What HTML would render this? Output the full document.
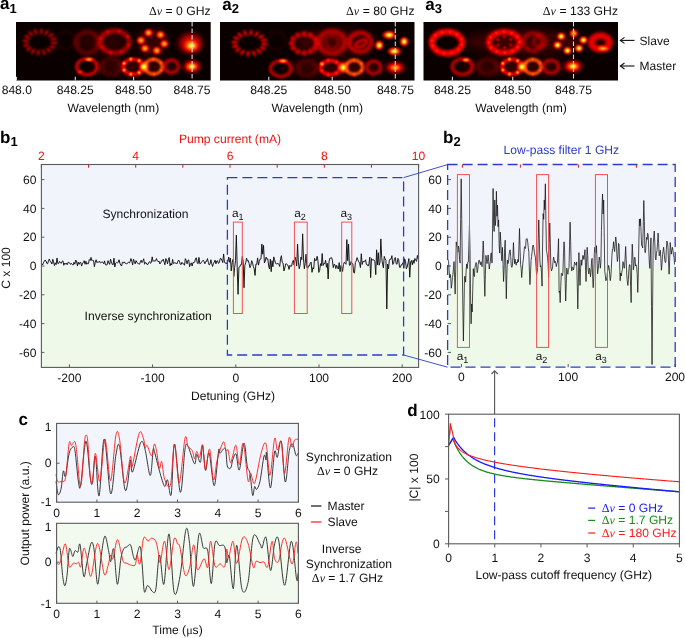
<!DOCTYPE html>
<html><head><meta charset="utf-8"><style>
html,body{margin:0;padding:0;background:#fff;}
svg{display:block;}
text{font-family:"Liberation Sans",sans-serif;text-rendering:geometricPrecision;}
</style></head><body>
<svg width="685" height="638" viewBox="0 0 685 638" font-family="Liberation Sans, sans-serif">
<rect width="685" height="638" fill="#ffffff"/>
<defs>
<filter id="b4" x="-50%" y="-50%" width="200%" height="200%"><feGaussianBlur stdDeviation="4"/></filter>
<filter id="b0_85" x="-50%" y="-50%" width="200%" height="200%"><feGaussianBlur stdDeviation="0.85"/></filter>
<filter id="b1_5" x="-50%" y="-50%" width="200%" height="200%"><feGaussianBlur stdDeviation="1.5"/></filter>
<filter id="b1_6" x="-50%" y="-50%" width="200%" height="200%"><feGaussianBlur stdDeviation="1.6"/></filter>
<filter id="b2" x="-50%" y="-50%" width="200%" height="200%"><feGaussianBlur stdDeviation="2"/></filter>
<filter id="b1_2" x="-50%" y="-50%" width="200%" height="200%"><feGaussianBlur stdDeviation="1.2"/></filter>
<filter id="b1_1" x="-50%" y="-50%" width="200%" height="200%"><feGaussianBlur stdDeviation="1.1"/></filter>
<filter id="b1_3" x="-50%" y="-50%" width="200%" height="200%"><feGaussianBlur stdDeviation="1.3"/></filter>
<filter id="b1_4" x="-50%" y="-50%" width="200%" height="200%"><feGaussianBlur stdDeviation="1.4"/></filter>
<radialGradient id="gY"><stop offset="0" stop-color="#ffffa0" stop-opacity="1"/><stop offset="0.22" stop-color="#ffd020" stop-opacity="1"/><stop offset="0.5" stop-color="#ff4000" stop-opacity="0.9"/><stop offset="0.78" stop-color="#c00000" stop-opacity="0.55"/><stop offset="1" stop-color="#500000" stop-opacity="0"/></radialGradient>
<radialGradient id="gO"><stop offset="0" stop-color="#ffc040" stop-opacity="1"/><stop offset="0.35" stop-color="#ff6000" stop-opacity="1"/><stop offset="0.7" stop-color="#d00000" stop-opacity="0.7"/><stop offset="1" stop-color="#600000" stop-opacity="0"/></radialGradient>
<radialGradient id="gR"><stop offset="0" stop-color="#ff3000" stop-opacity="1"/><stop offset="0.5" stop-color="#d00000" stop-opacity="0.8"/><stop offset="1" stop-color="#500000" stop-opacity="0"/></radialGradient>
<radialGradient id="gD"><stop offset="0" stop-color="#b00000" stop-opacity="1"/><stop offset="0.55" stop-color="#800000" stop-opacity="0.6"/><stop offset="1" stop-color="#300000" stop-opacity="0"/></radialGradient>
<clipPath id="ca1"><rect x="16" y="22" width="194.7" height="58.5"/></clipPath>
<clipPath id="ca2"><rect x="220" y="22" width="194.5" height="58.5"/></clipPath>
<clipPath id="ca3"><rect x="423.5" y="22" width="194.5" height="58.5"/></clipPath>
</defs>
<rect x="16" y="22" width="194.7" height="58.5" fill="#0b0000"/>
<g clip-path="url(#ca1)" style="isolation:isolate"><g style="mix-blend-mode:screen"><ellipse cx="100" cy="42" rx="26" ry="11" fill="#2a0000" filter="url(#b4)"/></g>
<g style="mix-blend-mode:screen"><ellipse cx="152" cy="42" rx="16" ry="12" fill="#360000" filter="url(#b4)"/></g>
<g style="mix-blend-mode:screen"><ellipse cx="135" cy="67" rx="45" ry="8" fill="#360000" filter="url(#b4)"/></g>
<g style="mix-blend-mode:screen"><g fill="#bc0000" filter="url(#b0_85)"><ellipse cx="53.93" cy="43.07" rx="3.2" ry="1.45" transform="rotate(4.3 53.93 43.07)"/><ellipse cx="52.31" cy="47.06" rx="3.2" ry="1.45" transform="rotate(22.0 52.31 47.06)"/><ellipse cx="48.79" cy="50.28" rx="3.2" ry="1.45" transform="rotate(42.7 48.79 50.28)"/><ellipse cx="43.90" cy="52.24" rx="3.2" ry="1.45" transform="rotate(68.2 43.90 52.24)"/><ellipse cx="38.38" cy="52.65" rx="3.2" ry="1.45" transform="rotate(97.6 38.38 52.65)"/><ellipse cx="33.08" cy="51.43" rx="3.2" ry="1.45" transform="rotate(125.5 33.08 51.43)"/><ellipse cx="28.81" cy="48.77" rx="3.2" ry="1.45" transform="rotate(148.4 28.81 48.77)"/><ellipse cx="26.20" cy="45.09" rx="3.2" ry="1.45" transform="rotate(167.2 26.20 45.09)"/><ellipse cx="25.67" cy="40.93" rx="3.2" ry="1.45" transform="rotate(-175.7 25.67 40.93)"/><ellipse cx="27.29" cy="36.94" rx="3.2" ry="1.45" transform="rotate(-158.0 27.29 36.94)"/><ellipse cx="30.81" cy="33.72" rx="3.2" ry="1.45" transform="rotate(-137.3 30.81 33.72)"/><ellipse cx="35.70" cy="31.76" rx="3.2" ry="1.45" transform="rotate(-111.8 35.70 31.76)"/><ellipse cx="41.22" cy="31.35" rx="3.2" ry="1.45" transform="rotate(-82.4 41.22 31.35)"/><ellipse cx="46.52" cy="32.57" rx="3.2" ry="1.45" transform="rotate(-54.5 46.52 32.57)"/><ellipse cx="50.79" cy="35.23" rx="3.2" ry="1.45" transform="rotate(-31.6 50.79 35.23)"/><ellipse cx="53.40" cy="38.91" rx="3.2" ry="1.45" transform="rotate(-12.8 53.40 38.91)"/></g></g>
<g style="mix-blend-mode:screen"><ellipse cx="65.8" cy="40.4" rx="9" ry="9" fill="none" stroke="#1e0000" stroke-width="3" filter="url(#b1_5)" /></g>
<g style="mix-blend-mode:screen"><ellipse cx="87" cy="42.6" rx="11" ry="10.8" fill="none" stroke="#550000" stroke-width="4.5" filter="url(#b1_6)" /></g>
<g style="mix-blend-mode:screen"><ellipse cx="114.7" cy="41.9" rx="14.5" ry="11.2" fill="none" stroke="#a30000" stroke-width="5" filter="url(#b1_5)" /></g>
<g style="mix-blend-mode:screen"><ellipse cx="128.55" cy="45.21" rx="3.0" ry="3.0" fill="url(#gD)"/></g>
<g style="mix-blend-mode:screen"><ellipse cx="121.47" cy="51.81" rx="3.0" ry="3.0" fill="url(#gD)"/></g>
<g style="mix-blend-mode:screen"><ellipse cx="110.41" cy="52.60" rx="3.0" ry="3.0" fill="url(#gD)"/></g>
<g style="mix-blend-mode:screen"><ellipse cx="101.87" cy="47.13" rx="3.0" ry="3.0" fill="url(#gD)"/></g>
<g style="mix-blend-mode:screen"><ellipse cx="100.85" cy="38.59" rx="3.0" ry="3.0" fill="url(#gD)"/></g>
<g style="mix-blend-mode:screen"><ellipse cx="107.93" cy="31.99" rx="3.0" ry="3.0" fill="url(#gD)"/></g>
<g style="mix-blend-mode:screen"><ellipse cx="118.99" cy="31.20" rx="3.0" ry="3.0" fill="url(#gD)"/></g>
<g style="mix-blend-mode:screen"><ellipse cx="127.53" cy="36.67" rx="3.0" ry="3.0" fill="url(#gD)"/></g>
<g style="mix-blend-mode:screen"><ellipse cx="152.5" cy="41.6" rx="12.5" ry="9.5" fill="none" stroke="#480000" stroke-width="4" filter="url(#b2)" /></g>
<g style="mix-blend-mode:screen"><ellipse cx="141" cy="40.4" rx="5.5" ry="5.2" fill="url(#gO)"/></g>
<g style="mix-blend-mode:screen"><ellipse cx="148.5" cy="32.8" rx="5.5" ry="5.2" fill="url(#gO)"/></g>
<g style="mix-blend-mode:screen"><ellipse cx="160.5" cy="34.8" rx="5.5" ry="5.2" fill="url(#gO)"/></g>
<g style="mix-blend-mode:screen"><ellipse cx="164.3" cy="43.8" rx="5.5" ry="5.2" fill="url(#gO)"/></g>
<g style="mix-blend-mode:screen"><ellipse cx="156.8" cy="50.6" rx="5.5" ry="5.2" fill="url(#gO)"/></g>
<g style="mix-blend-mode:screen"><ellipse cx="145" cy="48.4" rx="5.5" ry="5.2" fill="url(#gO)"/></g>
<g style="mix-blend-mode:screen"><ellipse cx="190.5" cy="43.5" rx="17" ry="14.5" fill="url(#gR)"/></g>
<g style="mix-blend-mode:screen"><ellipse cx="191.5" cy="45.8" rx="10" ry="8" fill="url(#gY)"/></g>
<g style="mix-blend-mode:screen"><ellipse cx="87" cy="66.7" rx="10.2" ry="8.0" fill="none" stroke="#c80000" stroke-width="3.5" filter="url(#b1_2)" /></g>
<g style="mix-blend-mode:screen"><ellipse cx="89" cy="59.5" rx="6" ry="3.2" fill="url(#gO)"/></g>
<g style="mix-blend-mode:screen"><ellipse cx="80" cy="72" rx="4" ry="3" fill="url(#gR)"/></g>
<g style="mix-blend-mode:screen"><ellipse cx="111.1" cy="66.7" rx="9.5" ry="8" fill="none" stroke="#3c0000" stroke-width="3.8" filter="url(#b1_5)" /></g>
<g style="mix-blend-mode:screen"><ellipse cx="133" cy="66.7" rx="9.8" ry="7.6" fill="none" stroke="#ff0000" stroke-width="3.4" filter="url(#b1_1)" /></g>
<g style="mix-blend-mode:screen"><ellipse cx="142.80" cy="66.70" rx="3.2" ry="3.2" fill="url(#gO)"/></g>
<g style="mix-blend-mode:screen"><ellipse cx="139.11" cy="72.64" rx="3.2" ry="3.2" fill="url(#gO)"/></g>
<g style="mix-blend-mode:screen"><ellipse cx="130.82" cy="74.11" rx="3.2" ry="3.2" fill="url(#gO)"/></g>
<g style="mix-blend-mode:screen"><ellipse cx="124.17" cy="70.00" rx="3.2" ry="3.2" fill="url(#gO)"/></g>
<g style="mix-blend-mode:screen"><ellipse cx="124.17" cy="63.40" rx="3.2" ry="3.2" fill="url(#gO)"/></g>
<g style="mix-blend-mode:screen"><ellipse cx="130.82" cy="59.29" rx="3.2" ry="3.2" fill="url(#gO)"/></g>
<g style="mix-blend-mode:screen"><ellipse cx="139.11" cy="60.76" rx="3.2" ry="3.2" fill="url(#gO)"/></g>
<g style="mix-blend-mode:screen"><ellipse cx="153.6" cy="66.7" rx="8.6" ry="7.4" fill="none" stroke="#ff4e00" stroke-width="3.4" filter="url(#b1_1)" /></g>
<g style="mix-blend-mode:screen"><ellipse cx="161.15" cy="70.25" rx="3.0" ry="3.0" fill="url(#gR)"/></g>
<g style="mix-blend-mode:screen"><ellipse cx="153.80" cy="74.10" rx="3.0" ry="3.0" fill="url(#gR)"/></g>
<g style="mix-blend-mode:screen"><ellipse cx="146.26" cy="70.55" rx="3.0" ry="3.0" fill="url(#gR)"/></g>
<g style="mix-blend-mode:screen"><ellipse cx="146.05" cy="63.15" rx="3.0" ry="3.0" fill="url(#gR)"/></g>
<g style="mix-blend-mode:screen"><ellipse cx="153.40" cy="59.30" rx="3.0" ry="3.0" fill="url(#gR)"/></g>
<g style="mix-blend-mode:screen"><ellipse cx="160.94" cy="62.85" rx="3.0" ry="3.0" fill="url(#gR)"/></g>
<g style="mix-blend-mode:screen"><ellipse cx="171.5" cy="66.4" rx="7" ry="6.3" fill="none" stroke="#aa0000" stroke-width="3.6" filter="url(#b1_3)" /></g>
<g style="mix-blend-mode:screen"><ellipse cx="144" cy="66.8" rx="6.8" ry="7.5" fill="url(#gY)"/></g>
<g style="mix-blend-mode:screen"><ellipse cx="191.9" cy="66.4" rx="12" ry="9.5" fill="url(#gR)"/></g>
<g style="mix-blend-mode:screen"><ellipse cx="191.9" cy="66.6" rx="8" ry="6" fill="url(#gY)"/></g></g>
<rect x="220" y="22" width="194.5" height="58.5" fill="#0b0000"/>
<g clip-path="url(#ca2)" style="isolation:isolate"><g style="mix-blend-mode:screen"><ellipse cx="335" cy="42" rx="40" ry="12" fill="#3c0000" filter="url(#b4)"/></g>
<g style="mix-blend-mode:screen"><ellipse cx="335" cy="67.5" rx="52" ry="8" fill="#360000" filter="url(#b4)"/></g>
<g style="mix-blend-mode:screen"><g fill="#f20000" filter="url(#b0_85)"><ellipse cx="264.43" cy="44.25" rx="3.2" ry="1.45" transform="rotate(4.0 264.43 44.25)"/><ellipse cx="262.72" cy="48.17" rx="3.2" ry="1.45" transform="rotate(20.6 262.72 48.17)"/><ellipse cx="258.99" cy="51.33" rx="3.2" ry="1.45" transform="rotate(40.6 258.99 51.33)"/><ellipse cx="253.83" cy="53.25" rx="3.2" ry="1.45" transform="rotate(66.7 253.83 53.25)"/><ellipse cx="248.00" cy="53.65" rx="3.2" ry="1.45" transform="rotate(98.2 248.00 53.65)"/><ellipse cx="242.40" cy="52.45" rx="3.2" ry="1.45" transform="rotate(127.5 242.40 52.45)"/><ellipse cx="237.89" cy="49.85" rx="3.2" ry="1.45" transform="rotate(150.2 237.89 49.85)"/><ellipse cx="235.14" cy="46.23" rx="3.2" ry="1.45" transform="rotate(168.1 235.14 46.23)"/><ellipse cx="234.57" cy="42.15" rx="3.2" ry="1.45" transform="rotate(-176.0 234.57 42.15)"/><ellipse cx="236.28" cy="38.23" rx="3.2" ry="1.45" transform="rotate(-159.4 236.28 38.23)"/><ellipse cx="240.01" cy="35.07" rx="3.2" ry="1.45" transform="rotate(-139.4 240.01 35.07)"/><ellipse cx="245.17" cy="33.15" rx="3.2" ry="1.45" transform="rotate(-113.3 245.17 33.15)"/><ellipse cx="251.00" cy="32.75" rx="3.2" ry="1.45" transform="rotate(-81.8 251.00 32.75)"/><ellipse cx="256.60" cy="33.95" rx="3.2" ry="1.45" transform="rotate(-52.5 256.60 33.95)"/><ellipse cx="261.11" cy="36.55" rx="3.2" ry="1.45" transform="rotate(-29.8 261.11 36.55)"/><ellipse cx="263.86" cy="40.17" rx="3.2" ry="1.45" transform="rotate(-11.9 263.86 40.17)"/></g></g>
<g style="mix-blend-mode:screen"><ellipse cx="276.4" cy="40.5" rx="9" ry="9" fill="none" stroke="#1e0000" stroke-width="3" filter="url(#b1_5)" /></g>
<g style="mix-blend-mode:screen"><g fill="#b60000" filter="url(#b1_3)"><ellipse cx="316.60" cy="43.40" rx="2.8" ry="2.4" transform="rotate(0.0 316.60 43.40)"/><ellipse cx="314.93" cy="48.15" rx="2.8" ry="2.4" transform="rotate(23.7 314.93 48.15)"/><ellipse cx="310.35" cy="51.63" rx="2.8" ry="2.4" transform="rotate(52.8 310.35 51.63)"/><ellipse cx="304.10" cy="52.90" rx="2.8" ry="2.4" transform="rotate(90.0 304.10 52.90)"/><ellipse cx="297.85" cy="51.63" rx="2.8" ry="2.4" transform="rotate(127.2 297.85 51.63)"/><ellipse cx="293.27" cy="48.15" rx="2.8" ry="2.4" transform="rotate(156.3 293.27 48.15)"/><ellipse cx="291.60" cy="43.40" rx="2.8" ry="2.4" transform="rotate(180.0 291.60 43.40)"/><ellipse cx="293.27" cy="38.65" rx="2.8" ry="2.4" transform="rotate(-156.3 293.27 38.65)"/><ellipse cx="297.85" cy="35.17" rx="2.8" ry="2.4" transform="rotate(-127.2 297.85 35.17)"/><ellipse cx="304.10" cy="33.90" rx="2.8" ry="2.4" transform="rotate(-90.0 304.10 33.90)"/><ellipse cx="310.35" cy="35.17" rx="2.8" ry="2.4" transform="rotate(-52.8 310.35 35.17)"/><ellipse cx="314.93" cy="38.65" rx="2.8" ry="2.4" transform="rotate(-23.7 314.93 38.65)"/></g></g>
<g style="mix-blend-mode:screen"><ellipse cx="304.1" cy="43.4" rx="12.5" ry="9.5" fill="none" stroke="#5b0000" stroke-width="3" filter="url(#b1_5)" /></g>
<g style="mix-blend-mode:screen"><ellipse cx="331.9" cy="42.3" rx="13" ry="11" fill="none" stroke="#9d0000" stroke-width="5.5" filter="url(#b1_6)" /></g>
<g style="mix-blend-mode:screen"><ellipse cx="331.9" cy="42.3" rx="6.5" ry="6.5" fill="none" stroke="#6d0000" stroke-width="3" filter="url(#b1_4)" /></g>
<g style="mix-blend-mode:screen"><ellipse cx="360.2" cy="42.3" rx="11" ry="9.5" fill="none" stroke="#b60000" stroke-width="4.4" filter="url(#b1_5)" /></g>
<g style="mix-blend-mode:screen"><ellipse cx="361" cy="43.5" rx="6" ry="2.6" fill="none" stroke="#ce0000" stroke-width="2.6" transform="rotate(-28 361 43.5)" filter="url(#b1_2)"/></g>
<g style="mix-blend-mode:screen"><ellipse cx="389.2" cy="35" rx="8.5" ry="5.5" fill="url(#gY)"/></g>
<g style="mix-blend-mode:screen"><ellipse cx="379.3" cy="45.3" rx="5.8" ry="6.2" fill="url(#gY)"/></g>
<g style="mix-blend-mode:screen"><ellipse cx="404.2" cy="41.6" rx="5.8" ry="6.2" fill="url(#gY)"/></g>
<g style="mix-blend-mode:screen"><ellipse cx="394.4" cy="51.3" rx="8.5" ry="5.5" fill="url(#gY)"/></g>
<g style="mix-blend-mode:screen"><ellipse cx="280.8" cy="68.6" rx="10.3" ry="7.8" fill="none" stroke="#b60000" stroke-width="3.5" filter="url(#b1_2)" /></g>
<g style="mix-blend-mode:screen"><ellipse cx="283" cy="61" rx="6.5" ry="3.2" fill="url(#gO)"/></g>
<g style="mix-blend-mode:screen"><ellipse cx="307" cy="68.3" rx="9.5" ry="7.6" fill="none" stroke="#3c0000" stroke-width="3.8" filter="url(#b1_5)" /></g>
<g style="mix-blend-mode:screen"><ellipse cx="330.4" cy="67.6" rx="9.6" ry="7.1" fill="none" stroke="#ff0000" stroke-width="3.4" filter="url(#b1_1)" /></g>
<g style="mix-blend-mode:screen"><ellipse cx="340.00" cy="67.60" rx="3.1" ry="3.1" fill="url(#gR)"/></g>
<g style="mix-blend-mode:screen"><ellipse cx="336.39" cy="73.15" rx="3.1" ry="3.1" fill="url(#gR)"/></g>
<g style="mix-blend-mode:screen"><ellipse cx="328.26" cy="74.52" rx="3.1" ry="3.1" fill="url(#gR)"/></g>
<g style="mix-blend-mode:screen"><ellipse cx="321.75" cy="70.68" rx="3.1" ry="3.1" fill="url(#gR)"/></g>
<g style="mix-blend-mode:screen"><ellipse cx="321.75" cy="64.52" rx="3.1" ry="3.1" fill="url(#gR)"/></g>
<g style="mix-blend-mode:screen"><ellipse cx="328.26" cy="60.68" rx="3.1" ry="3.1" fill="url(#gR)"/></g>
<g style="mix-blend-mode:screen"><ellipse cx="336.39" cy="62.05" rx="3.1" ry="3.1" fill="url(#gR)"/></g>
<g style="mix-blend-mode:screen"><ellipse cx="322" cy="64" rx="3.5" ry="3.5" fill="url(#gO)"/></g>
<g style="mix-blend-mode:screen"><ellipse cx="354.2" cy="67.3" rx="8.3" ry="7.0" fill="none" stroke="#ff4e00" stroke-width="3.4" filter="url(#b1_1)" /></g>
<g style="mix-blend-mode:screen"><ellipse cx="361.48" cy="70.66" rx="3.0" ry="3.0" fill="url(#gR)"/></g>
<g style="mix-blend-mode:screen"><ellipse cx="354.40" cy="74.30" rx="3.0" ry="3.0" fill="url(#gR)"/></g>
<g style="mix-blend-mode:screen"><ellipse cx="347.11" cy="70.94" rx="3.0" ry="3.0" fill="url(#gR)"/></g>
<g style="mix-blend-mode:screen"><ellipse cx="346.92" cy="63.94" rx="3.0" ry="3.0" fill="url(#gR)"/></g>
<g style="mix-blend-mode:screen"><ellipse cx="354.00" cy="60.30" rx="3.0" ry="3.0" fill="url(#gR)"/></g>
<g style="mix-blend-mode:screen"><ellipse cx="361.29" cy="63.66" rx="3.0" ry="3.0" fill="url(#gR)"/></g>
<g style="mix-blend-mode:screen"><ellipse cx="373.6" cy="67.5" rx="7" ry="6.3" fill="none" stroke="#aa0000" stroke-width="3.6" filter="url(#b1_3)" /></g>
<g style="mix-blend-mode:screen"><ellipse cx="343" cy="67.5" rx="6.8" ry="7.5" fill="url(#gY)"/></g>
<g style="mix-blend-mode:screen"><ellipse cx="395.2" cy="67.6" rx="13" ry="8.5" fill="url(#gR)"/></g>
<g style="mix-blend-mode:screen"><ellipse cx="395.2" cy="67.6" rx="8" ry="5" fill="url(#gO)"/></g></g>
<rect x="423.5" y="22" width="194.5" height="58.5" fill="#0b0000"/>
<g clip-path="url(#ca3)" style="isolation:isolate"><g style="mix-blend-mode:screen"><ellipse cx="525" cy="42" rx="60" ry="12" fill="#3c0000" filter="url(#b4)"/></g>
<g style="mix-blend-mode:screen"><ellipse cx="515" cy="67" rx="55" ry="8" fill="#360000" filter="url(#b4)"/></g>
<g style="mix-blend-mode:screen"><ellipse cx="447" cy="42.6" rx="15.2" ry="10.8" fill="none" stroke="#ff0000" stroke-width="6" filter="url(#b1_4)" /></g>
<g style="mix-blend-mode:screen"><ellipse cx="461.90" cy="44.75" rx="3.2" ry="3.2" fill="url(#gR)"/></g>
<g style="mix-blend-mode:screen"><ellipse cx="458.39" cy="49.75" rx="3.2" ry="3.2" fill="url(#gR)"/></g>
<g style="mix-blend-mode:screen"><ellipse cx="451.83" cy="52.84" rx="3.2" ry="3.2" fill="url(#gR)"/></g>
<g style="mix-blend-mode:screen"><ellipse cx="443.98" cy="53.18" rx="3.2" ry="3.2" fill="url(#gR)"/></g>
<g style="mix-blend-mode:screen"><ellipse cx="436.94" cy="50.69" rx="3.2" ry="3.2" fill="url(#gR)"/></g>
<g style="mix-blend-mode:screen"><ellipse cx="432.59" cy="46.03" rx="3.2" ry="3.2" fill="url(#gR)"/></g>
<g style="mix-blend-mode:screen"><ellipse cx="432.10" cy="40.45" rx="3.2" ry="3.2" fill="url(#gR)"/></g>
<g style="mix-blend-mode:screen"><ellipse cx="435.61" cy="35.45" rx="3.2" ry="3.2" fill="url(#gR)"/></g>
<g style="mix-blend-mode:screen"><ellipse cx="442.17" cy="32.36" rx="3.2" ry="3.2" fill="url(#gR)"/></g>
<g style="mix-blend-mode:screen"><ellipse cx="450.02" cy="32.02" rx="3.2" ry="3.2" fill="url(#gR)"/></g>
<g style="mix-blend-mode:screen"><ellipse cx="457.06" cy="34.51" rx="3.2" ry="3.2" fill="url(#gR)"/></g>
<g style="mix-blend-mode:screen"><ellipse cx="461.41" cy="39.17" rx="3.2" ry="3.2" fill="url(#gR)"/></g>
<g style="mix-blend-mode:screen"><ellipse cx="504.3" cy="42.3" rx="15.4" ry="10.5" fill="none" stroke="#f20000" stroke-width="5.5" filter="url(#b1_4)" /></g>
<g style="mix-blend-mode:screen"><ellipse cx="517.81" cy="47.33" rx="3.0" ry="3.0" fill="url(#gR)"/></g>
<g style="mix-blend-mode:screen"><ellipse cx="512.31" cy="51.27" rx="3.0" ry="3.0" fill="url(#gR)"/></g>
<g style="mix-blend-mode:screen"><ellipse cx="504.66" cy="52.80" rx="3.0" ry="3.0" fill="url(#gR)"/></g>
<g style="mix-blend-mode:screen"><ellipse cx="496.92" cy="51.51" rx="3.0" ry="3.0" fill="url(#gR)"/></g>
<g style="mix-blend-mode:screen"><ellipse cx="491.15" cy="47.76" rx="3.0" ry="3.0" fill="url(#gR)"/></g>
<g style="mix-blend-mode:screen"><ellipse cx="488.90" cy="42.55" rx="3.0" ry="3.0" fill="url(#gR)"/></g>
<g style="mix-blend-mode:screen"><ellipse cx="490.79" cy="37.27" rx="3.0" ry="3.0" fill="url(#gR)"/></g>
<g style="mix-blend-mode:screen"><ellipse cx="496.29" cy="33.33" rx="3.0" ry="3.0" fill="url(#gR)"/></g>
<g style="mix-blend-mode:screen"><ellipse cx="503.94" cy="31.80" rx="3.0" ry="3.0" fill="url(#gR)"/></g>
<g style="mix-blend-mode:screen"><ellipse cx="511.68" cy="33.09" rx="3.0" ry="3.0" fill="url(#gR)"/></g>
<g style="mix-blend-mode:screen"><ellipse cx="517.45" cy="36.84" rx="3.0" ry="3.0" fill="url(#gR)"/></g>
<g style="mix-blend-mode:screen"><ellipse cx="519.70" cy="42.05" rx="3.0" ry="3.0" fill="url(#gR)"/></g>
<g style="mix-blend-mode:screen"><ellipse cx="510.88" cy="44.94" rx="2.8" ry="2.8" fill="url(#gD)"/></g>
<g style="mix-blend-mode:screen"><ellipse cx="504.48" cy="47.80" rx="2.8" ry="2.8" fill="url(#gD)"/></g>
<g style="mix-blend-mode:screen"><ellipse cx="497.90" cy="45.16" rx="2.8" ry="2.8" fill="url(#gD)"/></g>
<g style="mix-blend-mode:screen"><ellipse cx="497.72" cy="39.66" rx="2.8" ry="2.8" fill="url(#gD)"/></g>
<g style="mix-blend-mode:screen"><ellipse cx="504.12" cy="36.80" rx="2.8" ry="2.8" fill="url(#gD)"/></g>
<g style="mix-blend-mode:screen"><ellipse cx="510.70" cy="39.44" rx="2.8" ry="2.8" fill="url(#gD)"/></g>
<g style="mix-blend-mode:screen"><ellipse cx="532.8" cy="41.9" rx="9.5" ry="9" fill="none" stroke="#850000" stroke-width="4" filter="url(#b1_5)" /></g>
<g style="mix-blend-mode:screen"><ellipse cx="540" cy="41" rx="6" ry="6" fill="none" stroke="#790000" stroke-width="3" filter="url(#b1_5)" /></g>
<g style="mix-blend-mode:screen"><ellipse cx="561.2" cy="36.4" rx="5.6" ry="5.2" fill="url(#gY)"/></g>
<g style="mix-blend-mode:screen"><ellipse cx="573.8" cy="33.4" rx="5.6" ry="5.2" fill="url(#gO)"/></g>
<g style="mix-blend-mode:screen"><ellipse cx="583.5" cy="40.1" rx="5.6" ry="5.2" fill="url(#gY)"/></g>
<g style="mix-blend-mode:screen"><ellipse cx="579" cy="48.3" rx="5.6" ry="5.2" fill="url(#gY)"/></g>
<g style="mix-blend-mode:screen"><ellipse cx="567.5" cy="50.6" rx="5.6" ry="5.2" fill="url(#gY)"/></g>
<g style="mix-blend-mode:screen"><ellipse cx="557.6" cy="45.1" rx="5.6" ry="5.2" fill="url(#gY)"/></g>
<g style="mix-blend-mode:screen"><ellipse cx="600.4" cy="42.4" rx="9.0" ry="6.6" fill="none" stroke="#e60000" stroke-width="7.0" filter="url(#b1_6)" /></g>
<g style="mix-blend-mode:screen"><ellipse cx="603" cy="48.5" rx="9" ry="4.2" fill="url(#gO)"/></g>
<g style="mix-blend-mode:screen"><ellipse cx="462.3" cy="66.7" rx="10" ry="7.8" fill="none" stroke="#b60000" stroke-width="3.6" filter="url(#b1_2)" /></g>
<g style="mix-blend-mode:screen"><ellipse cx="466" cy="60" rx="5.5" ry="3.2" fill="url(#gO)"/></g>
<g style="mix-blend-mode:screen"><ellipse cx="487.5" cy="66.7" rx="9.3" ry="7.5" fill="none" stroke="#3c0000" stroke-width="3.8" filter="url(#b1_5)" /></g>
<g style="mix-blend-mode:screen"><ellipse cx="511.6" cy="66.7" rx="9.6" ry="7.5" fill="none" stroke="#ff0000" stroke-width="3.4" filter="url(#b1_1)" /></g>
<g style="mix-blend-mode:screen"><ellipse cx="521.20" cy="66.70" rx="3.1" ry="3.1" fill="url(#gO)"/></g>
<g style="mix-blend-mode:screen"><ellipse cx="517.59" cy="72.56" rx="3.1" ry="3.1" fill="url(#gO)"/></g>
<g style="mix-blend-mode:screen"><ellipse cx="509.46" cy="74.01" rx="3.1" ry="3.1" fill="url(#gO)"/></g>
<g style="mix-blend-mode:screen"><ellipse cx="502.95" cy="69.95" rx="3.1" ry="3.1" fill="url(#gO)"/></g>
<g style="mix-blend-mode:screen"><ellipse cx="502.95" cy="63.45" rx="3.1" ry="3.1" fill="url(#gO)"/></g>
<g style="mix-blend-mode:screen"><ellipse cx="509.46" cy="59.39" rx="3.1" ry="3.1" fill="url(#gO)"/></g>
<g style="mix-blend-mode:screen"><ellipse cx="517.59" cy="60.84" rx="3.1" ry="3.1" fill="url(#gO)"/></g>
<g style="mix-blend-mode:screen"><ellipse cx="532.8" cy="66.7" rx="8.3" ry="7.2" fill="none" stroke="#ff4e00" stroke-width="3.4" filter="url(#b1_1)" /></g>
<g style="mix-blend-mode:screen"><ellipse cx="540.08" cy="70.15" rx="3.0" ry="3.0" fill="url(#gR)"/></g>
<g style="mix-blend-mode:screen"><ellipse cx="533.00" cy="73.90" rx="3.0" ry="3.0" fill="url(#gR)"/></g>
<g style="mix-blend-mode:screen"><ellipse cx="525.71" cy="70.45" rx="3.0" ry="3.0" fill="url(#gR)"/></g>
<g style="mix-blend-mode:screen"><ellipse cx="525.52" cy="63.25" rx="3.0" ry="3.0" fill="url(#gR)"/></g>
<g style="mix-blend-mode:screen"><ellipse cx="532.60" cy="59.50" rx="3.0" ry="3.0" fill="url(#gR)"/></g>
<g style="mix-blend-mode:screen"><ellipse cx="539.89" cy="62.95" rx="3.0" ry="3.0" fill="url(#gR)"/></g>
<g style="mix-blend-mode:screen"><ellipse cx="551" cy="66.7" rx="7.5" ry="6.5" fill="none" stroke="#aa0000" stroke-width="3.6" filter="url(#b1_3)" /></g>
<g style="mix-blend-mode:screen"><ellipse cx="522" cy="66.8" rx="6.8" ry="7.5" fill="url(#gY)"/></g>
<g style="mix-blend-mode:screen"><ellipse cx="573.1" cy="66.2" rx="12.5" ry="9" fill="url(#gR)"/></g>
<g style="mix-blend-mode:screen"><ellipse cx="573.1" cy="66.4" rx="8.5" ry="6" fill="url(#gY)"/></g></g>
<line x1="192.1" y1="22" x2="192.1" y2="80.5" stroke="#d8d8d8" stroke-width="1.1" stroke-dasharray="4.4 2.1"/>
<line x1="395.3" y1="22" x2="395.3" y2="80.5" stroke="#d8d8d8" stroke-width="1.1" stroke-dasharray="4.4 2.1"/>
<line x1="573.5" y1="22" x2="573.5" y2="80.5" stroke="#d8d8d8" stroke-width="1.1" stroke-dasharray="4.4 2.1"/>
<line x1="16.5" y1="80.5" x2="16.5" y2="76.8" stroke="#d8d8d8" stroke-width="1.1"/>
<line x1="75.3" y1="80.5" x2="75.3" y2="76.8" stroke="#d8d8d8" stroke-width="1.1"/>
<line x1="133.6" y1="80.5" x2="133.6" y2="76.8" stroke="#d8d8d8" stroke-width="1.1"/>
<line x1="268.8" y1="80.5" x2="268.8" y2="76.8" stroke="#d8d8d8" stroke-width="1.1"/>
<line x1="332.2" y1="80.5" x2="332.2" y2="76.8" stroke="#d8d8d8" stroke-width="1.1"/>
<line x1="452.4" y1="80.5" x2="452.4" y2="76.8" stroke="#d8d8d8" stroke-width="1.1"/>
<line x1="512.7" y1="80.5" x2="512.7" y2="76.8" stroke="#d8d8d8" stroke-width="1.1"/>
<text x="0" y="9.4" font-size="17" font-weight="bold" fill="#000">a<tspan font-size="13" dy="3.4">1</tspan></text>
<text x="222.3" y="9.5" font-size="17" font-weight="bold" fill="#000">a<tspan font-size="13" dy="3.4">2</tspan></text>
<text x="425.2" y="9.5" font-size="17" font-weight="bold" fill="#000">a<tspan font-size="13" dy="3.4">3</tspan></text>
<text x="210.60" y="15.30" font-size="12.2" text-anchor="end" fill="#111111" font-weight="normal" ><tspan font-family="Liberation Serif, serif">Δ</tspan><tspan font-family="Liberation Serif, serif" font-style="italic">ν</tspan> = 0 GHz</text>
<text x="414.50" y="15.30" font-size="12.2" text-anchor="end" fill="#111111" font-weight="normal" ><tspan font-family="Liberation Serif, serif">Δ</tspan><tspan font-family="Liberation Serif, serif" font-style="italic">ν</tspan> = 80 GHz</text>
<text x="618.00" y="15.30" font-size="12.2" text-anchor="end" fill="#111111" font-weight="normal" ><tspan font-family="Liberation Serif, serif">Δ</tspan><tspan font-family="Liberation Serif, serif" font-style="italic">ν</tspan> = 133 GHz</text>
<text x="16.80" y="94.40" font-size="12.1" text-anchor="middle" fill="#111111" font-weight="normal" >848.0</text>
<text x="75.20" y="94.40" font-size="12.1" text-anchor="middle" fill="#111111" font-weight="normal" >848.25</text>
<text x="133.40" y="94.40" font-size="12.1" text-anchor="middle" fill="#111111" font-weight="normal" >848.50</text>
<text x="192.00" y="94.40" font-size="12.1" text-anchor="middle" fill="#111111" font-weight="normal" >848.75</text>
<text x="268.80" y="94.40" font-size="12.1" text-anchor="middle" fill="#111111" font-weight="normal" >848.25</text>
<text x="332.40" y="94.40" font-size="12.1" text-anchor="middle" fill="#111111" font-weight="normal" >848.50</text>
<text x="395.40" y="94.40" font-size="12.1" text-anchor="middle" fill="#111111" font-weight="normal" >848.75</text>
<text x="452.40" y="94.40" font-size="12.1" text-anchor="middle" fill="#111111" font-weight="normal" >848.25</text>
<text x="512.80" y="94.40" font-size="12.1" text-anchor="middle" fill="#111111" font-weight="normal" >848.50</text>
<text x="573.50" y="94.40" font-size="12.1" text-anchor="middle" fill="#111111" font-weight="normal" >848.75</text>
<text x="113.40" y="112.40" font-size="12.1" text-anchor="middle" fill="#111111" font-weight="normal" >Wavelength (nm)</text>
<text x="317.20" y="112.40" font-size="12.1" text-anchor="middle" fill="#111111" font-weight="normal" >Wavelength (nm)</text>
<text x="521.00" y="112.40" font-size="12.1" text-anchor="middle" fill="#111111" font-weight="normal" >Wavelength (nm)</text>
<line x1="620.50" y1="40.40" x2="634.50" y2="40.40" stroke="#111" stroke-width="1.1" />
<path d="M624.5,37.4 L620.3,40.4 L624.5,43.4" fill="none" stroke="#111" stroke-width="1.1"/>
<text x="639.60" y="44.60" font-size="12" text-anchor="start" fill="#111111" font-weight="normal" >Slave</text>
<line x1="620.50" y1="66.00" x2="634.50" y2="66.00" stroke="#111" stroke-width="1.1" />
<path d="M624.5,63.0 L620.3,66.0 L624.5,69.0" fill="none" stroke="#111" stroke-width="1.1"/>
<text x="639.60" y="70.20" font-size="12" text-anchor="start" fill="#111111" font-weight="normal" >Master</text>
<rect x="41.4" y="164.5" width="377.20000000000005" height="101.5" fill="#f2f4fc"/>
<rect x="41.4" y="266.0" width="377.20000000000005" height="101.39999999999998" fill="#eef9ea"/>
<text x="0" y="142.8" font-size="17" font-weight="bold" fill="#000">b<tspan font-size="13" dy="3.4">1</tspan></text>
<text x="230.00" y="142.50" font-size="12.1" text-anchor="middle" fill="#ee1111" font-weight="normal" >Pump current (mA)</text>
<line x1="41.40" y1="164.50" x2="41.40" y2="167.70" stroke="#ee1111" stroke-width="1" />
<text x="41.40" y="159.60" font-size="12.1" text-anchor="middle" fill="#ee1111" font-weight="normal" >2</text>
<line x1="88.55" y1="164.50" x2="88.55" y2="167.70" stroke="#ee1111" stroke-width="1" />
<line x1="135.70" y1="164.50" x2="135.70" y2="167.70" stroke="#ee1111" stroke-width="1" />
<text x="135.70" y="159.60" font-size="12.1" text-anchor="middle" fill="#ee1111" font-weight="normal" >4</text>
<line x1="182.85" y1="164.50" x2="182.85" y2="167.70" stroke="#ee1111" stroke-width="1" />
<line x1="230.00" y1="164.50" x2="230.00" y2="167.70" stroke="#ee1111" stroke-width="1" />
<text x="230.00" y="159.60" font-size="12.1" text-anchor="middle" fill="#ee1111" font-weight="normal" >6</text>
<line x1="277.15" y1="164.50" x2="277.15" y2="167.70" stroke="#ee1111" stroke-width="1" />
<line x1="324.30" y1="164.50" x2="324.30" y2="167.70" stroke="#ee1111" stroke-width="1" />
<text x="324.30" y="159.60" font-size="12.1" text-anchor="middle" fill="#ee1111" font-weight="normal" >8</text>
<line x1="371.45" y1="164.50" x2="371.45" y2="167.70" stroke="#ee1111" stroke-width="1" />
<line x1="418.60" y1="164.50" x2="418.60" y2="167.70" stroke="#ee1111" stroke-width="1" />
<text x="418.60" y="159.60" font-size="12.1" text-anchor="middle" fill="#ee1111" font-weight="normal" >10</text>
<line x1="41.40" y1="179.60" x2="44.40" y2="179.60" stroke="#5a5a5a" stroke-width="1" />
<text x="36.50" y="183.80" font-size="12.1" text-anchor="end" fill="#111111" font-weight="normal" >60</text>
<line x1="41.40" y1="208.40" x2="44.40" y2="208.40" stroke="#5a5a5a" stroke-width="1" />
<text x="36.50" y="212.60" font-size="12.1" text-anchor="end" fill="#111111" font-weight="normal" >40</text>
<line x1="41.40" y1="237.20" x2="44.40" y2="237.20" stroke="#5a5a5a" stroke-width="1" />
<text x="36.50" y="241.40" font-size="12.1" text-anchor="end" fill="#111111" font-weight="normal" >20</text>
<line x1="41.40" y1="266.00" x2="44.40" y2="266.00" stroke="#5a5a5a" stroke-width="1" />
<text x="36.50" y="270.20" font-size="12.1" text-anchor="end" fill="#111111" font-weight="normal" >0</text>
<line x1="41.40" y1="294.80" x2="44.40" y2="294.80" stroke="#5a5a5a" stroke-width="1" />
<text x="36.50" y="299.00" font-size="12.1" text-anchor="end" fill="#111111" font-weight="normal" >-20</text>
<line x1="41.40" y1="323.60" x2="44.40" y2="323.60" stroke="#5a5a5a" stroke-width="1" />
<text x="36.50" y="327.80" font-size="12.1" text-anchor="end" fill="#111111" font-weight="normal" >-40</text>
<line x1="41.40" y1="352.40" x2="44.40" y2="352.40" stroke="#5a5a5a" stroke-width="1" />
<text x="36.50" y="356.60" font-size="12.1" text-anchor="end" fill="#111111" font-weight="normal" >-60</text>
<line x1="69.40" y1="367.40" x2="69.40" y2="364.40" stroke="#5a5a5a" stroke-width="1" />
<text x="69.40" y="381.80" font-size="12.1" text-anchor="middle" fill="#111111" font-weight="normal" >-200</text>
<line x1="152.60" y1="367.40" x2="152.60" y2="364.40" stroke="#5a5a5a" stroke-width="1" />
<text x="152.60" y="381.80" font-size="12.1" text-anchor="middle" fill="#111111" font-weight="normal" >-100</text>
<line x1="235.80" y1="367.40" x2="235.80" y2="364.40" stroke="#5a5a5a" stroke-width="1" />
<text x="235.80" y="381.80" font-size="12.1" text-anchor="middle" fill="#111111" font-weight="normal" >0</text>
<line x1="319.00" y1="367.40" x2="319.00" y2="364.40" stroke="#5a5a5a" stroke-width="1" />
<text x="319.00" y="381.80" font-size="12.1" text-anchor="middle" fill="#111111" font-weight="normal" >100</text>
<line x1="402.20" y1="367.40" x2="402.20" y2="364.40" stroke="#5a5a5a" stroke-width="1" />
<text x="402.20" y="381.80" font-size="12.1" text-anchor="middle" fill="#111111" font-weight="normal" >200</text>
<text x="233.00" y="399.60" font-size="12.1" text-anchor="middle" fill="#111111" font-weight="normal" >Detuning (GHz)</text>
<text x="10.20" y="268.00" font-size="12.1" text-anchor="middle" fill="#111111" font-weight="normal" transform="rotate(-90 10.2 268)">C x 100</text>
<text x="102.40" y="218.00" font-size="12.1" text-anchor="start" fill="#111111" font-weight="normal" >Synchronization</text>
<text x="84.60" y="319.50" font-size="12.1" text-anchor="start" fill="#111111" font-weight="normal" >Inverse synchronization</text>
<path d="M41.70,264.01 L42.55,264.96 L43.40,262.88 L44.25,261.31 L45.10,259.99 L45.95,261.06 L46.80,263.42 L47.65,263.73 L48.50,260.68 L49.35,258.96 L50.20,261.67 L51.05,262.00 L51.90,264.03 L52.75,259.31 L53.60,261.89 L54.45,265.55 L55.30,262.89 L56.15,264.60 L57.00,258.00 L57.85,263.41 L58.70,263.61 L59.55,261.32 L60.40,262.38 L61.25,263.33 L62.10,261.43 L62.95,260.87 L63.80,265.31 L64.65,263.17 L65.50,264.20 L66.35,262.96 L67.20,264.75 L68.05,262.43 L68.90,262.37 L69.75,263.01 L70.60,264.38 L71.45,263.36 L72.30,264.63 L73.15,264.99 L74.00,262.23 L74.85,264.15 L75.70,260.08 L76.55,261.02 L77.40,265.92 L78.25,262.24 L79.10,264.32 L79.95,262.36 L80.80,262.49 L81.65,266.09 L82.50,263.07 L83.35,262.63 L84.20,260.65 L85.05,264.24 L85.90,261.21 L86.75,264.29 L87.60,263.20 L88.45,263.68 L89.30,259.53 L90.15,260.54 L91.00,257.40 L91.85,260.50 L92.70,260.40 L93.55,260.61 L94.40,266.65 L95.25,262.27 L96.10,259.75 L96.95,262.77 L97.80,261.96 L98.65,262.17 L99.50,261.15 L100.35,262.88 L101.20,262.57 L102.05,261.80 L102.90,262.16 L103.75,263.75 L104.60,260.89 L105.45,264.79 L106.30,264.97 L107.15,264.75 L108.00,260.67 L108.85,262.95 L109.70,264.36 L110.55,259.28 L111.40,261.80 L112.25,264.41 L113.10,264.76 L113.95,258.17 L114.80,266.97 L115.65,263.07 L116.50,262.39 L117.35,263.12 L118.20,262.21 L119.05,259.79 L119.90,263.23 L120.75,265.05 L121.60,266.01 L122.45,262.15 L123.30,262.92 L124.15,261.88 L125.00,263.18 L125.85,263.36 L126.70,263.80 L127.55,263.34 L128.40,262.10 L129.25,262.94 L130.10,261.82 L130.95,258.52 L131.80,261.29 L132.65,264.92 L133.50,259.14 L134.35,261.46 L135.20,263.86 L136.05,260.67 L136.90,262.18 L137.75,263.53 L138.60,263.73 L139.45,264.25 L140.30,262.15 L141.15,260.25 L142.00,262.64 L142.85,261.20 L143.70,258.79 L144.55,264.24 L145.40,262.50 L146.25,262.97 L147.10,264.50 L147.95,264.39 L148.80,262.38 L149.65,261.51 L150.50,263.39 L151.35,262.12 L152.20,256.86 L153.05,261.43 L153.90,260.47 L154.75,261.15 L155.60,260.95 L156.45,258.58 L157.30,260.75 L158.15,261.79 L159.00,261.02 L159.85,263.96 L160.70,262.92 L161.55,260.69 L162.40,260.67 L163.25,259.19 L164.10,262.22 L164.95,264.74 L165.80,258.59 L166.65,260.02 L167.50,263.88 L168.35,259.79 L169.20,257.57 L170.05,265.79 L170.90,263.44 L171.75,265.05 L172.60,259.42 L173.45,263.56 L174.30,262.91 L175.15,262.89 L176.00,263.17 L176.85,264.03 L177.70,261.81 L178.55,260.06 L179.40,261.04 L180.25,264.12 L181.10,264.59 L181.95,262.33 L182.80,263.69 L183.65,263.85 L184.50,265.26 L185.35,258.64 L186.20,260.34 L187.05,263.82 L187.90,260.46 L188.75,259.93 L189.60,266.70 L190.45,263.76 L191.30,262.98 L192.15,266.06 L193.00,262.42 L193.85,262.73 L194.70,262.10 L195.55,258.37 L196.40,257.90 L197.25,263.06 L198.10,263.68 L198.95,257.41 L199.80,263.79 L200.65,263.51 L201.50,262.20 L202.35,261.16 L203.20,260.14 L204.05,261.48 L204.90,263.78 L205.75,261.39 L206.60,261.39 L207.45,258.62 L208.30,262.20 L209.15,264.99 L210.00,264.24 L210.85,259.74 L211.70,263.40 L212.55,266.47 L213.40,263.71 L214.25,262.16 L215.10,260.14 L215.95,263.90 L216.80,261.01 L217.65,260.74 L218.50,263.50 L219.35,262.44 L220.20,258.62 L221.05,258.54 L221.90,260.28 L222.75,262.62 L223.60,253.93 L224.45,262.36 L225.30,262.60 L226.15,263.92 L227.00,262.40 L227.85,261.96 L228.70,256.99 L229.55,262.30 L230.40,258.00 L231.25,271.00 L232.10,262.75 L232.95,259.41 L233.80,276.49 L234.65,267.30 L235.50,260.49 L236.35,235.20 L237.20,267.33 L238.05,294.30 L238.90,267.30 L239.75,266.90 L240.60,264.64 L241.45,264.65 L242.30,256.40 L243.15,261.09 L244.00,287.80 L244.85,265.28 L245.70,262.82 L246.55,258.06 L247.40,261.01 L248.25,260.51 L249.10,263.56 L249.95,267.66 L250.80,265.54 L251.65,260.71 L252.50,262.54 L253.35,266.48 L254.20,268.79 L255.05,275.40 L255.90,264.10 L256.75,264.27 L257.60,257.87 L258.45,265.13 L259.30,261.42 L260.15,259.06 L261.00,258.86 L261.85,244.00 L262.70,254.20 L263.55,245.40 L264.40,262.98 L265.25,261.19 L266.10,257.10 L266.95,259.31 L267.80,258.83 L268.65,265.92 L269.50,268.97 L270.35,259.14 L271.20,271.70 L272.05,260.72 L272.90,266.81 L273.75,256.88 L274.60,259.74 L275.45,263.16 L276.30,264.08 L277.15,263.53 L278.00,263.47 L278.85,264.20 L279.70,266.50 L280.55,258.71 L281.40,255.70 L282.25,262.55 L283.10,263.19 L283.95,270.98 L284.80,268.00 L285.65,263.92 L286.50,263.93 L287.35,264.51 L288.20,266.00 L289.05,269.41 L289.90,265.31 L290.75,266.49 L291.60,266.10 L292.45,262.31 L293.30,260.33 L294.15,265.16 L295.00,257.10 L295.85,259.85 L296.70,265.92 L297.55,244.00 L298.40,262.88 L299.25,268.80 L300.10,265.17 L300.95,257.10 L301.80,259.61 L302.65,233.80 L303.50,258.92 L304.35,268.80 L305.20,263.29 L306.05,254.20 L306.90,267.32 L307.75,268.25 L308.60,265.73 L309.45,265.98 L310.30,262.99 L311.15,262.14 L312.00,272.30 L312.85,267.68 L313.70,268.80 L314.55,258.40 L315.40,260.54 L316.25,260.53 L317.10,256.27 L317.95,260.39 L318.80,272.40 L319.65,270.52 L320.50,263.68 L321.35,265.66 L322.20,253.50 L323.05,265.58 L323.90,263.30 L324.75,263.75 L325.60,260.25 L326.45,267.31 L327.30,263.27 L328.15,279.00 L329.00,261.78 L329.85,258.24 L330.70,258.06 L331.55,257.62 L332.40,260.24 L333.25,267.57 L334.10,264.30 L334.95,264.72 L335.80,268.56 L336.65,265.31 L337.50,267.89 L338.35,269.03 L339.20,262.60 L340.05,271.70 L340.90,265.56 L341.75,266.56 L342.60,271.41 L343.45,264.51 L344.30,262.26 L345.15,263.27 L346.00,264.27 L346.85,239.60 L347.70,260.76 L348.55,244.00 L349.40,265.25 L350.25,265.08 L351.10,261.54 L351.95,263.41 L352.80,263.79 L353.65,272.46 L354.50,273.02 L355.35,262.35 L356.20,261.15 L357.05,257.59 L357.90,259.80 L358.75,261.83 L359.60,263.13 L360.45,267.61 L361.30,253.72 L362.15,264.47 L363.00,261.18 L363.85,261.89 L364.70,261.54 L365.55,259.74 L366.40,264.41 L367.25,264.60 L368.10,266.09 L368.95,263.92 L369.80,257.16 L370.65,277.60 L371.50,258.50 L372.35,260.02 L373.20,259.77 L374.05,260.08 L374.90,261.61 L375.75,274.60 L376.60,249.80 L377.45,264.83 L378.30,252.70 L379.15,265.19 L380.00,262.24 L380.85,238.90 L381.70,257.58 L382.55,264.14 L383.40,267.86 L384.25,256.40 L385.10,258.71 L385.95,260.55 L386.80,308.90 L387.65,264.00 L388.50,268.80 L389.35,260.06 L390.20,259.09 L391.05,259.20 L391.90,255.70 L392.75,264.47 L393.60,263.32 L394.45,258.54 L395.30,257.51 L396.15,263.75 L397.00,264.25 L397.85,258.35 L398.70,259.69 L399.55,267.30 L400.40,267.37 L401.25,264.70 L402.10,264.70 L402.95,262.76 L403.80,268.35 L404.65,258.75 L405.50,261.26 L406.35,268.80 L407.20,266.90 L408.05,262.88 L408.90,258.59 L409.75,277.19 L410.60,262.01 L411.45,260.48 L412.30,264.83 L413.15,260.26 L414.00,263.39 L414.85,258.43 L415.70,260.53 L416.55,261.28 L417.40,255.41 L418.25,259.29" fill="none" stroke="#111" stroke-width="0.95" stroke-linejoin="round"/>
<rect x="233.4" y="222.1" width="8.900000000000006" height="91.4" fill="none" stroke="#f05050" stroke-width="1"/>
<rect x="294.4" y="222.1" width="12.800000000000011" height="91.4" fill="none" stroke="#f05050" stroke-width="1"/>
<rect x="341.7" y="222.1" width="10.100000000000023" height="91.4" fill="none" stroke="#f05050" stroke-width="1"/>
<text x="231.9" y="217" font-size="11.8" fill="#111111">a<tspan font-size="9" dy="2.5">1</tspan></text>
<text x="294.2" y="217" font-size="11.8" fill="#111111">a<tspan font-size="9" dy="2.5">2</tspan></text>
<text x="340.5" y="217" font-size="11.8" fill="#111111">a<tspan font-size="9" dy="2.5">3</tspan></text>
<rect x="41.4" y="164.5" width="377.20000000000005" height="202.89999999999998" fill="none" stroke="#5a5a5a" stroke-width="1.1"/>
<rect x="227.4" y="177.6" width="176.20000000000002" height="177.4" fill="none" stroke="#2c3cc8" stroke-width="1.3" stroke-dasharray="10 5"/>
<line x1="403.60" y1="177.60" x2="447.60" y2="164.60" stroke="#2c3cc8" stroke-width="0.9" />
<line x1="403.60" y1="355.00" x2="447.60" y2="367.20" stroke="#2c3cc8" stroke-width="0.9" />
<rect x="447.6" y="164.5" width="227.60000000000002" height="101.5" fill="#f2f4fc"/>
<rect x="447.6" y="266.0" width="227.60000000000002" height="101.19999999999999" fill="#eef9ea"/>
<text x="443" y="142.8" font-size="17" font-weight="bold" fill="#000">b<tspan font-size="13" dy="3.4">2</tspan></text>
<text x="561.30" y="154.40" font-size="12.1" text-anchor="middle" fill="#2c3cc8" font-weight="normal" >Low-pass filter 1 GHz</text>
<line x1="462.40" y1="164.50" x2="462.40" y2="167.70" stroke="#ee1111" stroke-width="1" />
<line x1="520.40" y1="164.50" x2="520.40" y2="167.70" stroke="#ee1111" stroke-width="1" />
<line x1="578.40" y1="164.50" x2="578.40" y2="167.70" stroke="#ee1111" stroke-width="1" />
<line x1="636.40" y1="164.50" x2="636.40" y2="167.70" stroke="#ee1111" stroke-width="1" />
<line x1="447.60" y1="179.60" x2="451.00" y2="179.60" stroke="#5a5a5a" stroke-width="1" />
<text x="441.80" y="183.80" font-size="12.1" text-anchor="end" fill="#111111" font-weight="normal" >60</text>
<line x1="447.60" y1="208.40" x2="451.00" y2="208.40" stroke="#5a5a5a" stroke-width="1" />
<text x="441.80" y="212.60" font-size="12.1" text-anchor="end" fill="#111111" font-weight="normal" >40</text>
<line x1="447.60" y1="237.20" x2="451.00" y2="237.20" stroke="#5a5a5a" stroke-width="1" />
<text x="441.80" y="241.40" font-size="12.1" text-anchor="end" fill="#111111" font-weight="normal" >20</text>
<line x1="447.60" y1="266.00" x2="451.00" y2="266.00" stroke="#5a5a5a" stroke-width="1" />
<text x="441.80" y="270.20" font-size="12.1" text-anchor="end" fill="#111111" font-weight="normal" >0</text>
<line x1="447.60" y1="294.80" x2="451.00" y2="294.80" stroke="#5a5a5a" stroke-width="1" />
<text x="441.80" y="299.00" font-size="12.1" text-anchor="end" fill="#111111" font-weight="normal" >-20</text>
<line x1="447.60" y1="323.60" x2="451.00" y2="323.60" stroke="#5a5a5a" stroke-width="1" />
<text x="441.80" y="327.80" font-size="12.1" text-anchor="end" fill="#111111" font-weight="normal" >-40</text>
<line x1="447.60" y1="352.40" x2="451.00" y2="352.40" stroke="#5a5a5a" stroke-width="1" />
<text x="441.80" y="356.60" font-size="12.1" text-anchor="end" fill="#111111" font-weight="normal" >-60</text>
<line x1="461.40" y1="367.20" x2="461.40" y2="364.00" stroke="#5a5a5a" stroke-width="1" />
<text x="461.40" y="381.40" font-size="12.1" text-anchor="middle" fill="#111111" font-weight="normal" >0</text>
<line x1="568.20" y1="367.20" x2="568.20" y2="364.00" stroke="#5a5a5a" stroke-width="1" />
<text x="568.20" y="381.40" font-size="12.1" text-anchor="middle" fill="#111111" font-weight="normal" >100</text>
<line x1="675.00" y1="367.20" x2="675.00" y2="364.00" stroke="#5a5a5a" stroke-width="1" />
<text x="675.00" y="381.40" font-size="12.1" text-anchor="middle" fill="#111111" font-weight="normal" >200</text>
<path d="M448.00,259.49 L448.55,261.48 L449.10,270.18 L449.65,277.86 L450.20,274.30 L450.75,278.38 L451.30,288.16 L451.85,284.43 L452.40,277.66 L452.95,274.33 L453.50,267.98 L454.05,261.58 L454.60,277.20 L455.15,294.00 L455.70,269.22 L456.25,241.86 L456.80,245.87 L457.35,247.04 L457.90,252.27 L458.45,246.11 L459.00,249.16 L459.55,259.45 L460.10,263.10 L460.65,219.67 L461.20,178.80 L461.75,219.66 L462.30,268.05 L462.85,307.82 L463.40,341.00 L463.95,311.18 L464.50,276.80 L465.05,276.22 L465.60,282.20 L466.15,270.20 L466.70,263.94 L467.25,268.49 L467.80,262.05 L468.35,261.92 L468.90,245.24 L469.45,225.30 L470.00,248.32 L470.55,295.86 L471.10,323.80 L471.65,304.02 L472.20,312.00 L472.75,289.15 L473.30,268.68 L473.85,275.43 L474.40,276.56 L474.95,267.55 L475.50,265.01 L476.05,262.50 L476.60,264.69 L477.15,272.65 L477.70,270.26 L478.25,264.34 L478.80,260.40 L479.35,260.24 L479.90,262.81 L480.45,264.67 L481.00,261.71 L481.55,264.11 L482.10,266.72 L482.65,254.90 L483.20,241.00 L483.75,253.15 L484.30,279.31 L484.85,296.30 L485.40,274.23 L485.95,255.36 L486.50,259.95 L487.05,263.63 L487.60,259.74 L488.15,254.93 L488.70,261.56 L489.25,269.00 L489.80,264.62 L490.35,261.45 L490.90,253.59 L491.45,252.87 L492.00,263.05 L492.55,228.33 L493.10,188.50 L493.65,225.37 L494.20,231.56 L494.75,200.00 L495.30,225.61 L495.85,219.21 L496.40,191.30 L496.95,216.23 L497.50,205.00 L498.05,226.74 L498.60,219.90 L499.15,245.64 L499.70,253.07 L500.25,232.00 L500.80,241.80 L501.35,254.31 L501.90,260.77 L502.45,247.37 L503.00,264.33 L503.55,281.50 L504.10,270.17 L504.65,248.34 L505.20,240.18 L505.75,268.30 L506.30,298.70 L506.85,275.69 L507.40,260.12 L507.95,263.71 L508.50,262.28 L509.05,255.01 L509.60,251.17 L510.15,249.81 L510.70,256.28 L511.25,265.94 L511.80,267.35 L512.35,266.16 L512.90,257.53 L513.45,242.60 L514.00,255.69 L514.55,263.77 L515.10,259.20 L515.65,263.22 L516.20,265.18 L516.75,261.96 L517.30,262.86 L517.85,259.36 L518.40,261.88 L518.95,246.97 L519.50,228.50 L520.05,248.95 L520.60,264.58 L521.15,268.24 L521.70,277.50 L522.25,270.76 L522.80,263.24 L523.35,259.29 L523.90,253.42 L524.45,246.78 L525.00,247.24 L525.55,248.48 L526.10,239.13 L526.65,238.90 L527.20,238.70 L527.75,242.67 L528.30,247.81 L528.85,252.28 L529.40,271.10 L529.95,284.60 L530.50,274.53 L531.05,260.45 L531.60,256.35 L532.15,251.66 L532.70,246.00 L533.25,245.00 L533.80,247.67 L534.35,252.08 L534.90,255.14 L535.45,257.47 L536.00,266.11 L536.55,274.72 L537.10,272.53 L537.65,267.65 L538.20,241.07 L538.75,219.90 L539.30,238.54 L539.85,260.21 L540.40,266.96 L540.95,265.70 L541.50,273.25 L542.05,286.20 L542.60,244.04 L543.15,213.60 L543.70,219.37 L544.25,200.00 L544.80,209.71 L545.35,183.80 L545.90,220.65 L546.45,250.67 L547.00,253.21 L547.55,257.40 L548.10,263.85 L548.65,277.50 L549.20,243.67 L549.75,223.00 L550.30,242.23 L550.85,266.83 L551.40,270.96 L551.95,269.68 L552.50,268.00 L553.05,261.68 L553.60,257.07 L554.15,259.92 L554.70,262.88 L555.25,261.30 L555.80,263.21 L556.35,266.60 L556.90,263.67 L557.45,262.31 L558.00,251.53 L558.55,238.70 L559.10,292.40 L559.65,291.08 L560.20,302.60 L560.75,286.47 L561.30,273.30 L561.85,273.70 L562.40,275.70 L562.95,272.24 L563.50,252.73 L564.05,241.80 L564.60,249.94 L565.15,281.03 L565.70,301.00 L566.25,283.80 L566.80,268.08 L567.35,272.57 L567.90,274.22 L568.45,269.27 L569.00,267.91 L569.55,245.30 L570.10,222.20 L570.65,241.51 L571.20,265.29 L571.75,270.95 L572.30,267.40 L572.85,267.08 L573.40,269.99 L573.95,267.67 L574.50,262.10 L575.05,263.18 L575.60,264.23 L576.15,265.34 L576.70,261.90 L577.25,284.13 L577.80,308.90 L578.35,282.72 L578.90,252.64 L579.45,269.04 L580.00,285.40 L580.55,268.50 L581.10,259.87 L581.65,265.34 L582.20,261.52 L582.75,255.45 L583.30,255.62 L583.85,259.44 L584.40,255.58 L584.95,249.71 L585.50,266.96 L586.05,281.50 L586.60,261.07 L587.15,247.30 L587.70,255.59 L588.25,270.52 L588.80,273.85 L589.35,268.21 L589.90,268.96 L590.45,276.73 L591.00,272.38 L591.55,260.95 L592.10,258.38 L592.65,278.01 L593.20,287.70 L593.75,277.04 L594.30,253.67 L594.85,247.22 L595.40,252.65 L595.95,253.21 L596.50,245.70 L597.05,260.73 L597.60,273.76 L598.15,269.84 L598.70,263.71 L599.25,257.04 L599.80,260.71 L600.35,268.22 L600.90,262.42 L601.45,230.31 L602.00,207.30 L602.55,194.00 L603.10,214.01 L603.65,200.00 L604.20,232.83 L604.75,271.15 L605.30,275.40 L605.85,280.76 L606.40,279.90 L606.95,276.83 L607.50,271.52 L608.05,269.56 L608.60,265.39 L609.15,267.54 L609.70,274.75 L610.25,280.70 L610.80,277.11 L611.35,268.21 L611.90,256.08 L612.45,248.90 L613.00,248.35 L613.55,241.76 L614.10,249.19 L614.65,251.57 L615.20,243.14 L615.75,237.03 L616.30,241.47 L616.85,254.49 L617.40,261.49 L617.95,256.65 L618.50,243.40 L619.05,244.20 L619.60,262.70 L620.15,280.71 L620.70,272.98 L621.25,276.00 L621.80,272.27 L622.35,269.79 L622.90,261.65 L623.45,262.41 L624.00,268.30 L624.55,267.97 L625.10,258.04 L625.65,246.50 L626.20,259.21 L626.75,274.80 L627.30,281.08 L627.85,285.43 L628.40,279.39 L628.95,268.75 L629.50,264.66 L630.05,264.92 L630.60,286.33 L631.15,302.60 L631.70,263.58 L632.25,244.20 L632.80,254.97 L633.35,269.76 L633.90,265.57 L634.45,257.68 L635.00,257.16 L635.55,266.05 L636.10,264.81 L636.65,266.77 L637.20,274.10 L637.75,292.40 L638.30,273.75 L638.85,243.21 L639.40,219.00 L639.95,225.83 L640.50,218.80 L641.05,231.33 L641.60,245.47 L642.15,245.74 L642.70,247.92 L643.25,225.70 L643.80,200.50 L644.35,221.59 L644.90,252.40 L645.45,252.63 L646.00,244.63 L646.55,237.34 L647.10,239.40 L647.65,233.29 L648.20,234.97 L648.75,248.94 L649.30,262.95 L649.85,268.35 L650.40,254.29 L650.95,237.80 L651.50,306.66 L652.05,364.50 L652.60,306.04 L653.15,245.10 L653.70,237.37 L654.25,231.02 L654.80,242.27 L655.35,257.66 L655.90,259.88 L656.45,253.70 L657.00,250.51 L657.55,242.81 L658.10,233.00 L658.65,243.58 L659.20,255.77 L659.75,253.95 L660.30,250.24 L660.85,258.86 L661.40,270.22 L661.95,264.87 L662.50,254.64 L663.05,251.33 L663.60,247.23 L664.15,252.94 L664.70,259.23 L665.25,262.56 L665.80,262.10 L666.35,249.15 L666.90,241.00 L667.45,242.97 L668.00,247.87 L668.55,261.85 L669.10,274.20 L669.65,260.24 L670.20,242.48 L670.75,248.05 L671.30,254.17 L671.85,250.05 L672.40,247.30 L672.95,250.12 L673.50,255.56 L674.05,257.23 L674.60,264.57" fill="none" stroke="#111" stroke-width="0.75" stroke-linejoin="round"/>
<rect x="457.4" y="174.6" width="12.100000000000023" height="172.79999999999998" fill="none" stroke="#f05050" stroke-width="1"/>
<rect x="536.6" y="174.6" width="12.0" height="172.79999999999998" fill="none" stroke="#f05050" stroke-width="1"/>
<rect x="595.4" y="174.6" width="12.100000000000023" height="172.79999999999998" fill="none" stroke="#f05050" stroke-width="1"/>
<text x="456.7" y="360.4" font-size="11.8" fill="#111111">a<tspan font-size="9" dy="2.5">1</tspan></text>
<text x="535.8" y="360.4" font-size="11.8" fill="#111111">a<tspan font-size="9" dy="2.5">2</tspan></text>
<text x="595.2" y="360.4" font-size="11.8" fill="#111111">a<tspan font-size="9" dy="2.5">3</tspan></text>
<rect x="447.6" y="164.5" width="227.60000000000002" height="202.7" fill="none" stroke="#2c3cc8" stroke-width="1.3" stroke-dasharray="10 5"/>
<line x1="494.60" y1="371.50" x2="494.60" y2="414.00" stroke="#555" stroke-width="1.1" />
<path d="M491.4,374 L494.6,370.8 L497.8,374" fill="none" stroke="#555" stroke-width="1.1"/>
<rect x="56.6" y="423.4" width="241.79999999999998" height="78.80000000000001" fill="#f3f5fc"/>
<text x="51.50" y="431.00" font-size="12.1" text-anchor="end" fill="#111111" font-weight="normal" >1</text>
<line x1="56.60" y1="463.20" x2="59.60" y2="463.20" stroke="#5a5a5a" stroke-width="1" />
<text x="51.50" y="467.40" font-size="12.1" text-anchor="end" fill="#111111" font-weight="normal" >0</text>
<text x="51.50" y="506.40" font-size="12.1" text-anchor="end" fill="#111111" font-weight="normal" >-1</text>
<line x1="56.60" y1="502.20" x2="56.60" y2="499.60" stroke="#5a5a5a" stroke-width="1" />
<text x="56.60" y="516.60" font-size="12.1" text-anchor="middle" fill="#111111" font-weight="normal" >0</text>
<line x1="96.90" y1="502.20" x2="96.90" y2="499.60" stroke="#5a5a5a" stroke-width="1" />
<text x="96.90" y="516.60" font-size="12.1" text-anchor="middle" fill="#111111" font-weight="normal" >1</text>
<line x1="137.20" y1="502.20" x2="137.20" y2="499.60" stroke="#5a5a5a" stroke-width="1" />
<text x="137.20" y="516.60" font-size="12.1" text-anchor="middle" fill="#111111" font-weight="normal" >2</text>
<line x1="177.50" y1="502.20" x2="177.50" y2="499.60" stroke="#5a5a5a" stroke-width="1" />
<text x="177.50" y="516.60" font-size="12.1" text-anchor="middle" fill="#111111" font-weight="normal" >3</text>
<line x1="217.80" y1="502.20" x2="217.80" y2="499.60" stroke="#5a5a5a" stroke-width="1" />
<text x="217.80" y="516.60" font-size="12.1" text-anchor="middle" fill="#111111" font-weight="normal" >4</text>
<line x1="258.10" y1="502.20" x2="258.10" y2="499.60" stroke="#5a5a5a" stroke-width="1" />
<text x="258.10" y="516.60" font-size="12.1" text-anchor="middle" fill="#111111" font-weight="normal" >5</text>
<line x1="298.40" y1="502.20" x2="298.40" y2="499.60" stroke="#5a5a5a" stroke-width="1" />
<text x="298.40" y="516.60" font-size="12.1" text-anchor="middle" fill="#111111" font-weight="normal" >6</text>
<rect x="56.6" y="523.3" width="241.79999999999998" height="80.0" fill="#f2faf0"/>
<text x="51.50" y="530.90" font-size="12.1" text-anchor="end" fill="#111111" font-weight="normal" >1</text>
<line x1="56.60" y1="562.20" x2="59.60" y2="562.20" stroke="#5a5a5a" stroke-width="1" />
<text x="51.50" y="566.40" font-size="12.1" text-anchor="end" fill="#111111" font-weight="normal" >0</text>
<text x="51.50" y="607.50" font-size="12.1" text-anchor="end" fill="#111111" font-weight="normal" >-1</text>
<line x1="56.60" y1="603.30" x2="56.60" y2="600.70" stroke="#5a5a5a" stroke-width="1" />
<text x="56.60" y="617.70" font-size="12.1" text-anchor="middle" fill="#111111" font-weight="normal" >0</text>
<line x1="96.90" y1="603.30" x2="96.90" y2="600.70" stroke="#5a5a5a" stroke-width="1" />
<text x="96.90" y="617.70" font-size="12.1" text-anchor="middle" fill="#111111" font-weight="normal" >1</text>
<line x1="137.20" y1="603.30" x2="137.20" y2="600.70" stroke="#5a5a5a" stroke-width="1" />
<text x="137.20" y="617.70" font-size="12.1" text-anchor="middle" fill="#111111" font-weight="normal" >2</text>
<line x1="177.50" y1="603.30" x2="177.50" y2="600.70" stroke="#5a5a5a" stroke-width="1" />
<text x="177.50" y="617.70" font-size="12.1" text-anchor="middle" fill="#111111" font-weight="normal" >3</text>
<line x1="217.80" y1="603.30" x2="217.80" y2="600.70" stroke="#5a5a5a" stroke-width="1" />
<text x="217.80" y="617.70" font-size="12.1" text-anchor="middle" fill="#111111" font-weight="normal" >4</text>
<line x1="258.10" y1="603.30" x2="258.10" y2="600.70" stroke="#5a5a5a" stroke-width="1" />
<text x="258.10" y="617.70" font-size="12.1" text-anchor="middle" fill="#111111" font-weight="normal" >5</text>
<line x1="298.40" y1="603.30" x2="298.40" y2="600.70" stroke="#5a5a5a" stroke-width="1" />
<text x="298.40" y="617.70" font-size="12.1" text-anchor="middle" fill="#111111" font-weight="normal" >6</text>
<text x="18.6" y="424.8" font-size="17" font-weight="bold" fill="#000">c<tspan font-size="13" dy="3.4"></tspan></text>
<path d="M56.00,481.30 C56.37,483.50 57.35,493.28 58.20,494.50 C59.05,495.72 60.25,492.50 61.10,488.60 C61.95,484.70 62.57,473.17 63.30,471.10 C64.03,469.03 64.53,479.12 65.50,476.20 C66.47,473.28 67.88,458.47 69.10,453.60 C70.32,448.73 71.82,447.48 72.80,447.00 C73.78,446.52 74.03,444.73 75.00,450.70 C75.97,456.67 77.63,477.22 78.60,482.80 C79.57,488.38 79.58,491.13 80.80,484.20 C82.02,477.27 84.32,442.28 85.90,441.20 C87.48,440.12 89.20,470.77 90.30,477.70 C91.40,484.63 91.65,486.33 92.50,482.80 C93.35,479.27 94.30,454.32 95.40,456.50 C96.50,458.68 97.63,498.82 99.10,495.90 C100.57,492.98 102.27,439.37 104.20,439.00 C106.13,438.63 108.75,491.03 110.70,493.70 C112.65,496.37 114.43,462.90 115.90,455.00 C117.37,447.10 118.05,440.82 119.50,446.30 C120.95,451.78 123.27,481.58 124.60,487.90 C125.93,494.22 126.52,488.83 127.50,484.20 C128.48,479.57 129.65,462.17 130.50,460.10 C131.35,458.03 130.90,474.72 132.60,471.80 C134.30,468.88 138.63,446.37 140.70,442.60 C142.77,438.83 143.42,443.72 145.00,449.20 C146.58,454.68 148.85,475.25 150.20,475.50 C151.55,475.75 152.40,454.72 153.10,450.70 C153.80,446.68 153.33,448.00 154.40,451.40 C155.47,454.80 157.80,465.27 159.50,471.10 C161.20,476.93 163.27,484.93 164.60,486.40 C165.93,487.87 166.40,478.55 167.50,479.90 C168.60,481.25 170.03,500.47 171.20,494.50 C172.37,488.53 172.97,444.47 174.50,444.10 C176.03,443.73 178.65,491.45 180.40,492.30 C182.15,493.15 183.73,456.87 185.00,449.20 C186.27,441.53 186.42,443.87 188.00,446.30 C189.58,448.73 193.05,462.47 194.50,463.80 C195.95,465.13 195.72,454.55 196.70,454.30 C197.68,454.05 199.42,463.77 200.40,462.30 C201.38,460.83 201.75,444.15 202.60,445.50 C203.45,446.85 204.42,469.18 205.50,470.40 C206.58,471.62 207.65,450.25 209.10,452.80 C210.55,455.35 212.62,486.05 214.20,485.70 C215.78,485.35 217.63,456.10 218.60,450.70 C219.57,445.30 218.88,453.65 220.00,453.30 C221.12,452.95 224.08,446.48 225.30,448.60 C226.52,450.72 226.40,462.77 227.30,466.00 C228.20,469.23 229.80,469.00 230.70,468.00 C231.60,467.00 231.82,462.33 232.70,460.00 C233.58,457.67 234.90,452.33 236.00,454.00 C237.10,455.67 237.97,471.78 239.30,470.00 C240.63,468.22 242.67,443.87 244.00,443.30 C245.33,442.73 246.30,461.60 247.30,466.60 C248.30,471.60 249.12,468.52 250.00,473.30 C250.88,478.08 251.83,493.08 252.60,495.30 C253.37,497.52 253.93,487.60 254.60,486.60 C255.27,485.60 255.70,490.18 256.60,489.30 C257.50,488.42 258.77,486.85 260.00,481.30 C261.23,475.75 263.00,459.55 264.00,456.00 C265.00,452.45 265.57,460.45 266.00,460.00 C266.43,459.55 265.87,448.63 266.60,453.30 C267.33,457.97 269.07,488.22 270.40,488.00 C271.73,487.78 273.45,457.12 274.60,452.00 C275.75,446.88 276.18,459.08 277.30,457.30 C278.42,455.52 279.97,437.18 281.30,441.30 C282.63,445.42 283.97,480.45 285.30,482.00 C286.63,483.55 288.08,456.93 289.30,450.60 C290.52,444.27 291.48,443.22 292.60,444.00 C293.72,444.78 295.10,453.75 296.00,455.30 C296.90,456.85 297.67,453.63 298.00,453.30" fill="none" stroke="#222" stroke-width="0.9"/>
<path d="M56.00,474.00 C56.25,475.22 56.53,480.08 57.50,481.30 C58.47,482.52 60.47,481.90 61.80,481.30 C63.13,480.70 64.28,484.02 65.50,477.70 C66.72,471.38 68.13,448.77 69.10,443.40 C70.07,438.03 70.32,445.75 71.30,445.50 C72.28,445.25 74.02,440.07 75.00,441.90 C75.98,443.73 76.47,449.93 77.20,456.50 C77.93,463.07 78.68,477.05 79.40,481.30 C80.12,485.55 80.65,488.57 81.50,482.00 C82.35,475.43 83.68,449.68 84.50,441.90 C85.32,434.12 85.85,435.30 86.40,435.30 C86.95,435.30 87.15,434.97 87.80,441.90 C88.45,448.83 89.52,470.33 90.30,476.90 C91.08,483.47 91.65,485.23 92.50,481.30 C93.35,477.37 94.18,453.30 95.40,453.30 C96.62,453.30 98.33,483.20 99.80,481.30 C101.27,479.40 103.10,447.73 104.20,441.90 C105.30,436.07 105.32,439.85 106.40,446.30 C107.48,452.75 109.12,482.43 110.70,480.60 C112.28,478.77 114.43,442.23 115.90,435.30 C117.37,428.37 118.05,431.08 119.50,439.00 C120.95,446.92 122.77,479.88 124.60,482.80 C126.43,485.72 129.28,459.07 130.50,456.50 C131.72,453.93 130.45,471.30 131.90,467.40 C133.35,463.50 137.25,437.83 139.20,433.10 C141.15,428.37 142.63,436.57 143.60,439.00 C144.57,441.43 144.40,446.62 145.00,447.70 C145.60,448.78 146.10,444.15 147.20,445.50 C148.30,446.85 150.40,456.03 151.60,455.80 C152.80,455.57 153.57,444.83 154.40,444.10 C155.23,443.37 155.75,447.38 156.60,451.40 C157.45,455.42 158.65,466.50 159.50,468.20 C160.35,469.90 160.85,459.78 161.70,461.60 C162.55,463.42 163.15,475.20 164.60,479.10 C166.05,483.00 168.75,490.83 170.40,485.00 C172.05,479.17 173.03,444.47 174.50,444.10 C175.97,443.73 177.45,483.78 179.20,482.80 C180.95,481.82 183.53,444.28 185.00,438.20 C186.47,432.12 186.78,444.22 188.00,446.30 C189.22,448.38 191.22,448.63 192.30,450.70 C193.38,452.77 193.77,458.58 194.50,458.70 C195.23,458.82 195.85,451.65 196.70,451.40 C197.55,451.15 198.62,458.30 199.60,457.20 C200.58,456.10 201.62,442.73 202.60,444.80 C203.58,446.87 204.33,468.87 205.50,469.60 C206.67,470.33 208.27,447.48 209.60,449.20 C210.93,450.92 212.23,478.08 213.50,479.90 C214.77,481.72 215.57,466.42 217.20,460.10 C218.83,453.78 221.83,443.58 223.30,442.00 C224.77,440.42 225.22,449.27 226.00,450.60 C226.78,451.93 227.27,448.00 228.00,450.00 C228.73,452.00 229.62,461.60 230.40,462.60 C231.18,463.60 231.77,458.88 232.70,456.00 C233.63,453.12 234.90,443.87 236.00,445.30 C237.10,446.73 238.08,464.93 239.30,464.60 C240.52,464.27 241.85,440.63 243.30,443.30 C244.75,445.97 246.78,475.60 248.00,480.60 C249.22,485.60 249.50,472.85 250.60,473.30 C251.70,473.75 253.03,485.85 254.60,483.30 C256.17,480.75 258.43,464.55 260.00,458.00 C261.57,451.45 262.90,445.90 264.00,444.00 C265.10,442.10 265.60,441.38 266.60,446.60 C267.60,451.82 268.67,476.63 270.00,475.30 C271.33,473.97 273.38,442.82 274.60,438.60 C275.82,434.38 276.18,449.43 277.30,450.00 C278.42,450.57 280.08,438.12 281.30,442.00 C282.52,445.88 283.32,473.97 284.60,473.30 C285.88,472.63 287.77,442.33 289.00,438.00 C290.23,433.67 291.07,446.97 292.00,447.30 C292.93,447.63 293.60,441.33 294.60,440.00 C295.60,438.67 297.43,439.42 298.00,439.30" fill="none" stroke="#ff1a1a" stroke-width="0.9"/>
<path d="M56.00,553.60 C56.37,552.50 57.47,547.48 58.20,547.00 C58.93,546.52 59.67,545.95 60.40,550.70 C61.13,555.45 61.87,569.67 62.60,575.50 C63.33,581.33 64.07,585.70 64.80,585.70 C65.53,585.70 66.28,581.33 67.00,575.50 C67.72,569.67 68.50,554.97 69.10,550.70 C69.70,546.43 69.98,548.93 70.60,549.90 C71.22,550.87 72.07,556.37 72.80,556.50 C73.53,556.63 74.15,551.43 75.00,550.70 C75.85,549.97 77.05,553.08 77.90,552.10 C78.75,551.12 79.13,540.78 80.10,544.80 C81.07,548.82 82.60,573.03 83.70,576.20 C84.80,579.37 85.48,569.27 86.70,563.80 C87.92,558.33 89.78,545.83 91.00,543.40 C92.22,540.97 92.90,542.40 94.00,549.20 C95.10,556.00 96.38,583.23 97.60,584.20 C98.82,585.17 100.08,563.02 101.30,555.00 C102.52,546.98 103.68,536.82 104.90,536.10 C106.12,535.38 107.63,546.45 108.60,550.70 C109.57,554.95 109.85,561.85 110.70,561.60 C111.55,561.35 112.60,545.43 113.70,549.20 C114.80,552.97 116.08,582.73 117.30,584.20 C118.52,585.67 119.90,563.95 121.00,558.00 C122.10,552.05 122.93,550.33 123.90,548.50 C124.87,546.67 125.70,547.62 126.80,547.00 C127.90,546.38 129.40,543.22 130.50,544.80 C131.60,546.38 132.55,554.07 133.40,556.50 C134.25,558.93 134.52,561.10 135.60,559.40 C136.68,557.70 138.82,545.57 139.90,546.30 C140.98,547.03 141.37,556.27 142.10,563.80 C142.83,571.33 143.45,587.85 144.30,591.50 C145.15,595.15 146.25,586.30 147.20,585.70 C148.15,585.10 149.13,586.93 150.00,587.90 C150.87,588.87 151.43,591.27 152.40,591.50 C153.37,591.73 154.62,595.38 155.80,589.30 C156.98,583.22 158.15,555.85 159.50,555.00 C160.85,554.15 162.32,587.72 163.90,584.20 C165.48,580.68 167.30,532.55 169.00,533.90 C170.70,535.25 172.28,585.13 174.10,592.30 C175.92,599.47 177.95,587.25 179.90,576.90 C181.85,566.55 184.22,536.03 185.80,530.20 C187.38,524.37 188.12,532.53 189.40,541.90 C190.68,551.27 191.92,587.62 193.50,586.40 C195.08,585.18 197.27,541.05 198.90,534.60 C200.53,528.15 201.83,545.02 203.30,547.70 C204.77,550.38 206.37,544.73 207.70,550.70 C209.03,556.67 210.08,584.72 211.30,583.50 C212.52,582.28 213.67,549.73 215.00,543.40 C216.33,537.07 217.68,544.97 219.30,545.50 C220.92,546.03 223.47,543.75 224.70,546.60 C225.93,549.45 225.93,561.03 226.70,562.60 C227.47,564.17 228.20,551.67 229.30,556.00 C230.40,560.33 232.07,590.38 233.30,588.60 C234.53,586.82 235.25,545.18 236.70,545.30 C238.15,545.42 240.12,583.08 242.00,589.30 C243.88,595.52 246.12,591.38 248.00,582.60 C249.88,573.82 251.30,543.03 253.30,536.60 C255.30,530.17 258.55,542.10 260.00,544.00 C261.45,545.90 261.23,548.90 262.00,548.00 C262.77,547.10 263.83,539.93 264.60,538.60 C265.37,537.27 265.60,534.67 266.60,540.00 C267.60,545.33 269.27,569.93 270.60,570.60 C271.93,571.27 273.27,549.10 274.60,544.00 C275.93,538.90 276.93,533.12 278.60,540.00 C280.27,546.88 282.48,585.08 284.60,585.30 C286.72,585.52 289.30,542.30 291.30,541.30 C293.30,540.30 295.48,573.97 296.60,579.30 C297.72,584.63 297.77,574.30 298.00,573.30" fill="none" stroke="#222" stroke-width="0.9"/>
<path d="M56.00,562.30 C56.60,562.55 58.50,565.50 59.60,563.80 C60.70,562.10 61.62,555.38 62.60,552.10 C63.58,548.82 64.53,542.40 65.50,544.10 C66.47,545.80 67.67,558.42 68.40,562.30 C69.13,566.18 69.05,567.27 69.90,567.40 C70.75,567.53 72.42,563.70 73.50,563.10 C74.58,562.50 75.55,563.93 76.40,563.80 C77.25,563.67 77.87,561.82 78.60,562.30 C79.33,562.78 79.95,569.00 80.80,566.70 C81.65,564.40 82.72,550.20 83.70,548.50 C84.68,546.80 85.48,551.88 86.70,556.50 C87.92,561.12 89.18,578.38 91.00,576.20 C92.82,574.02 95.40,543.77 97.60,543.40 C99.80,543.03 102.50,570.12 104.20,574.00 C105.90,577.88 106.72,569.87 107.80,566.70 C108.88,563.53 109.85,556.33 110.70,555.00 C111.55,553.67 111.80,561.25 112.90,558.70 C114.00,556.15 115.95,540.80 117.30,539.70 C118.65,538.60 120.02,548.45 121.00,552.10 C121.98,555.75 122.35,559.77 123.20,561.60 C124.05,563.43 124.17,562.48 126.10,563.10 C128.03,563.72 132.98,566.65 134.80,565.30 C136.62,563.95 136.15,555.25 137.00,555.00 C137.85,554.75 138.80,566.60 139.90,563.80 C141.00,561.00 142.25,541.97 143.60,538.20 C144.95,534.43 146.67,541.20 148.00,541.20 C149.33,541.20 150.30,538.20 151.60,538.20 C152.90,538.20 154.73,539.12 155.80,541.20 C156.87,543.28 157.27,547.18 158.00,550.70 C158.73,554.22 159.10,563.88 160.20,562.30 C161.30,560.72 163.13,539.98 164.60,541.20 C166.07,542.42 167.42,569.97 169.00,569.60 C170.58,569.23 172.65,543.25 174.10,539.00 C175.55,534.75 176.73,542.77 177.70,544.10 C178.67,545.43 178.68,541.90 179.90,547.00 C181.12,552.10 183.42,571.17 185.00,574.70 C186.58,578.23 187.93,573.18 189.40,568.20 C190.87,563.22 192.47,544.57 193.80,544.80 C195.13,545.03 195.70,567.28 197.40,569.60 C199.10,571.92 202.28,559.07 204.00,558.70 C205.72,558.33 206.60,570.32 207.70,567.40 C208.80,564.48 209.38,541.43 210.60,541.20 C211.82,540.97 213.42,562.23 215.00,566.00 C216.58,569.77 218.48,563.70 220.10,563.80 C221.72,563.90 223.60,569.02 224.70,566.60 C225.80,564.18 226.03,550.85 226.70,549.30 C227.37,547.75 227.65,558.63 228.70,557.30 C229.75,555.97 231.67,540.30 233.00,541.30 C234.33,542.30 235.10,563.85 236.70,563.30 C238.30,562.75 240.72,541.33 242.60,538.00 C244.48,534.67 246.22,538.42 248.00,543.30 C249.78,548.18 251.97,564.30 253.30,567.30 C254.63,570.30 254.88,562.08 256.00,561.30 C257.12,560.52 258.67,562.48 260.00,562.60 C261.33,562.72 262.72,561.33 264.00,562.00 C265.28,562.67 266.37,570.05 267.70,566.60 C269.03,563.15 270.85,542.63 272.00,541.30 C273.15,539.97 273.50,555.27 274.60,558.60 C275.70,561.93 277.37,563.85 278.60,561.30 C279.83,558.75 280.88,546.97 282.00,543.30 C283.12,539.63 283.63,535.85 285.30,539.30 C286.97,542.75 290.22,563.55 292.00,564.00 C293.78,564.45 295.00,543.78 296.00,542.00 C297.00,540.22 297.67,551.42 298.00,553.30" fill="none" stroke="#ff1a1a" stroke-width="0.9"/>
<rect x="56.6" y="423.4" width="241.79999999999998" height="78.80000000000001" fill="none" stroke="#5a5a5a" stroke-width="1.1"/>
<rect x="56.6" y="523.3" width="241.79999999999998" height="80.0" fill="none" stroke="#5a5a5a" stroke-width="1.1"/>
<text x="28.90" y="513.30" font-size="12.1" text-anchor="middle" fill="#111111" font-weight="normal" transform="rotate(-90 28.9 513.3)">Output power (a.u.)</text>
<text x="177.50" y="634.00" font-size="12.1" text-anchor="middle" fill="#111111" font-weight="normal" >Time (<tspan font-family="Liberation Serif, serif">μ</tspan>s)</text>
<text x="348.90" y="461.00" font-size="12.1" text-anchor="middle" fill="#111111" font-weight="normal" >Synchronization</text>
<text x="347.50" y="475.00" font-size="12.1" text-anchor="middle" fill="#111111" font-weight="normal" ><tspan font-family="Liberation Serif, serif">Δ</tspan><tspan font-family="Liberation Serif, serif" font-style="italic">ν</tspan> = 0 GHz</text>
<line x1="311.00" y1="506.00" x2="321.40" y2="506.00" stroke="#111" stroke-width="1.2" />
<line x1="311.00" y1="522.00" x2="321.40" y2="522.00" stroke="#ff1a1a" stroke-width="1.2" />
<text x="327.60" y="510.00" font-size="12.1" text-anchor="start" fill="#111111" font-weight="normal" >Master</text>
<text x="327.60" y="525.60" font-size="12.1" text-anchor="start" fill="#111111" font-weight="normal" >Slave</text>
<text x="341.70" y="552.60" font-size="12.1" text-anchor="middle" fill="#111111" font-weight="normal" >Inverse</text>
<text x="348.90" y="567.60" font-size="12.1" text-anchor="middle" fill="#111111" font-weight="normal" >Synchronization</text>
<text x="347.50" y="582.00" font-size="12.1" text-anchor="middle" fill="#111111" font-weight="normal" ><tspan font-family="Liberation Serif, serif">Δ</tspan><tspan font-family="Liberation Serif, serif" font-style="italic">ν</tspan> = 1.7 GHz</text>
<text x="407.2" y="416" font-size="17" font-weight="bold" fill="#000">d<tspan font-size="13" dy="3.4"></tspan></text>
<line x1="445.00" y1="414.20" x2="448.60" y2="414.20" stroke="#5a5a5a" stroke-width="1" />
<text x="439.80" y="418.50" font-size="12.1" text-anchor="end" fill="#111111" font-weight="normal" >100</text>
<line x1="445.00" y1="446.60" x2="448.60" y2="446.60" stroke="#5a5a5a" stroke-width="1" />
<line x1="445.00" y1="479.00" x2="448.60" y2="479.00" stroke="#5a5a5a" stroke-width="1" />
<text x="439.80" y="483.30" font-size="12.1" text-anchor="end" fill="#111111" font-weight="normal" >50</text>
<line x1="445.00" y1="511.40" x2="448.60" y2="511.40" stroke="#5a5a5a" stroke-width="1" />
<line x1="445.00" y1="543.80" x2="448.60" y2="543.80" stroke="#5a5a5a" stroke-width="1" />
<text x="439.80" y="548.10" font-size="12.1" text-anchor="end" fill="#111111" font-weight="normal" >0</text>
<line x1="448.60" y1="543.80" x2="448.60" y2="547.40" stroke="#5a5a5a" stroke-width="1" />
<text x="448.60" y="561.60" font-size="12.1" text-anchor="middle" fill="#111111" font-weight="normal" >0</text>
<line x1="494.76" y1="543.80" x2="494.76" y2="547.40" stroke="#5a5a5a" stroke-width="1" />
<text x="494.76" y="561.60" font-size="12.1" text-anchor="middle" fill="#111111" font-weight="normal" >1</text>
<line x1="540.92" y1="543.80" x2="540.92" y2="547.40" stroke="#5a5a5a" stroke-width="1" />
<text x="540.92" y="561.60" font-size="12.1" text-anchor="middle" fill="#111111" font-weight="normal" >2</text>
<line x1="587.08" y1="543.80" x2="587.08" y2="547.40" stroke="#5a5a5a" stroke-width="1" />
<text x="587.08" y="561.60" font-size="12.1" text-anchor="middle" fill="#111111" font-weight="normal" >3</text>
<line x1="633.24" y1="543.80" x2="633.24" y2="547.40" stroke="#5a5a5a" stroke-width="1" />
<text x="633.24" y="561.60" font-size="12.1" text-anchor="middle" fill="#111111" font-weight="normal" >4</text>
<line x1="679.40" y1="543.80" x2="679.40" y2="547.40" stroke="#5a5a5a" stroke-width="1" />
<text x="679.40" y="561.60" font-size="12.1" text-anchor="middle" fill="#111111" font-weight="normal" >5</text>
<text x="563.70" y="578.70" font-size="12.1" text-anchor="middle" fill="#111111" font-weight="normal" >Low-pass cutoff frequency (GHz)</text>
<text x="417.60" y="477.60" font-size="12.1" text-anchor="middle" fill="#111111" font-weight="normal" transform="rotate(-90 417.6 477.6)">|C| x 100</text>
<line x1="494.6" y1="414.2" x2="494.6" y2="543.8" stroke="#2c3ce0" stroke-width="1.2" stroke-dasharray="9 5" stroke-dashoffset="-4"/>
<path d="M448.8,445.5 L450.3,423.6 L451.2,430 L449.2,440 Z" fill="#ff8080" stroke="none"/>
<path d="M448.60,445.50 L452.70,438.50 L453.30,439.85 L454.00,441.62 L454.70,443.29 L455.40,444.87 L456.10,446.35 L456.80,447.75 L457.50,449.07 L458.20,450.32 L458.90,451.50 L459.60,452.62 L460.30,453.68 L461.00,454.69 L461.70,455.64 L462.40,456.54 L463.10,457.40 L463.80,458.22 L464.50,458.99 L465.20,459.73 L465.90,460.43 L466.60,461.10 L467.30,461.74 L468.00,462.35 L468.70,462.93 L469.40,463.49 L470.10,464.02 L470.80,464.53 L471.50,465.02 L472.20,465.48 L472.90,465.93 L473.60,466.36 L474.30,466.77 L475.00,467.16 L475.70,467.54 L476.40,467.91 L477.10,468.26 L477.80,468.60 L478.50,468.92 L479.20,469.24 L479.90,469.54 L480.60,469.83 L481.30,470.11 L482.00,470.38 L482.70,470.64 L483.40,470.90 L484.10,471.14 L484.80,471.38 L485.50,471.61 L486.20,471.83 L486.90,472.05 L487.60,472.26 L488.30,472.46 L489.00,472.66 L489.70,472.85 L490.40,473.04 L491.10,473.22 L491.80,473.40 L492.50,473.57 L493.20,473.74 L493.90,473.90 L494.60,474.06 L495.30,474.22 L496.00,474.37 L496.70,474.52 L497.40,474.66 L498.10,474.80 L498.80,474.94 L499.50,475.08 L500.20,475.21 L500.90,475.34 L501.60,475.47 L502.30,475.59 L503.00,475.72 L503.70,475.84 L504.40,475.95 L505.10,476.07 L505.80,476.18 L506.50,476.29 L507.20,476.40 L507.90,476.51 L508.60,476.62 L509.30,476.72 L510.00,476.83 L510.70,476.93 L511.40,477.03 L512.10,477.13 L512.80,477.22 L513.50,477.32 L514.20,477.41 L514.90,477.51 L515.60,477.60 L516.30,477.69 L517.00,477.78 L517.70,477.87 L518.40,477.95 L519.10,478.04 L519.80,478.13 L520.50,478.21 L521.20,478.30 L521.90,478.38 L522.60,478.46 L523.30,478.54 L524.00,478.62 L524.70,478.70 L525.40,478.78 L526.10,478.86 L526.80,478.94 L527.50,479.01 L528.20,479.09 L528.90,479.17 L529.60,479.24 L530.30,479.32 L531.00,479.39 L531.70,479.46 L532.40,479.54 L533.10,479.61 L533.80,479.68 L534.50,479.75 L535.20,479.83 L535.90,479.90 L536.60,479.97 L537.30,480.04 L538.00,480.11 L538.70,480.17 L539.40,480.24 L540.10,480.31 L540.80,480.38 L541.50,480.45 L542.20,480.52 L542.90,480.58 L543.60,480.65 L544.30,480.72 L545.00,480.78 L545.70,480.85 L546.40,480.91 L547.10,480.98 L547.80,481.04 L548.50,481.11 L549.20,481.17 L549.90,481.24 L550.60,481.30 L551.30,481.36 L552.00,481.43 L552.70,481.49 L553.40,481.56 L554.10,481.62 L554.80,481.68 L555.50,481.74 L556.20,481.81 L556.90,481.87 L557.60,481.93 L558.30,481.99 L559.00,482.05 L559.70,482.12 L560.40,482.18 L561.10,482.24 L561.80,482.30 L562.50,482.36 L563.20,482.42 L563.90,482.48 L564.60,482.54 L565.30,482.60 L566.00,482.66 L566.70,482.72 L567.40,482.78 L568.10,482.84 L568.80,482.90 L569.50,482.96 L570.20,483.02 L570.90,483.08 L571.60,483.14 L572.30,483.20 L573.00,483.26 L573.70,483.32 L574.40,483.38 L575.10,483.44 L575.80,483.50 L576.50,483.56 L577.20,483.62 L577.90,483.67 L578.60,483.73 L579.30,483.79 L580.00,483.85 L580.70,483.91 L581.40,483.97 L582.10,484.02 L582.80,484.08 L583.50,484.14 L584.20,484.20 L584.90,484.26 L585.60,484.31 L586.30,484.37 L587.00,484.43 L587.70,484.49 L588.40,484.55 L589.10,484.60 L589.80,484.66 L590.50,484.72 L591.20,484.78 L591.90,484.83 L592.60,484.89 L593.30,484.95 L594.00,485.00 L594.70,485.06 L595.40,485.12 L596.10,485.18 L596.80,485.23 L597.50,485.29 L598.20,485.35 L598.90,485.40 L599.60,485.46 L600.30,485.52 L601.00,485.57 L601.70,485.63 L602.40,485.69 L603.10,485.75 L603.80,485.80 L604.50,485.86 L605.20,485.92 L605.90,485.97 L606.60,486.03 L607.30,486.08 L608.00,486.14 L608.70,486.20 L609.40,486.25 L610.10,486.31 L610.80,486.37 L611.50,486.42 L612.20,486.48 L612.90,486.54 L613.60,486.59 L614.30,486.65 L615.00,486.70 L615.70,486.76 L616.40,486.82 L617.10,486.87 L617.80,486.93 L618.50,486.99 L619.20,487.04 L619.90,487.10 L620.60,487.15 L621.30,487.21 L622.00,487.27 L622.70,487.32 L623.40,487.38 L624.10,487.43 L624.80,487.49 L625.50,487.55 L626.20,487.60 L626.90,487.66 L627.60,487.71 L628.30,487.77 L629.00,487.82 L629.70,487.88 L630.40,487.94 L631.10,487.99 L631.80,488.05 L632.50,488.10 L633.20,488.16 L633.90,488.22 L634.60,488.27 L635.30,488.33 L636.00,488.38 L636.70,488.44 L637.40,488.49 L638.10,488.55 L638.80,488.60 L639.50,488.66 L640.20,488.72 L640.90,488.77 L641.60,488.83 L642.30,488.88 L643.00,488.94 L643.70,488.99 L644.40,489.05 L645.10,489.10 L645.80,489.16 L646.50,489.22 L647.20,489.27 L647.90,489.33 L648.60,489.38 L649.30,489.44 L650.00,489.49 L650.70,489.55 L651.40,489.60 L652.10,489.66 L652.80,489.72 L653.50,489.77 L654.20,489.83 L654.90,489.88 L655.60,489.94 L656.30,489.99 L657.00,490.05 L657.70,490.10 L658.40,490.16 L659.10,490.21 L659.80,490.27 L660.50,490.32 L661.20,490.38 L661.90,490.43 L662.60,490.49 L663.30,490.55 L664.00,490.60 L664.70,490.66 L665.40,490.71 L666.10,490.77 L666.80,490.82 L667.50,490.88 L668.20,490.93 L668.90,490.99 L669.60,491.04 L670.30,491.10 L671.00,491.15 L671.70,491.21 L672.40,491.26 L673.10,491.32 L673.80,491.37 L674.50,491.43 L675.20,491.48 L675.90,491.54 L676.60,491.60 L677.30,491.65 L678.00,491.71 L678.70,491.76" fill="none" stroke="#1a8a1a" stroke-width="1.3" stroke-linejoin="round"/>
<path d="M448.60,445.50 L453.60,437.40 L454.20,438.44 L454.90,439.64 L455.60,440.78 L456.30,441.86 L457.00,442.90 L457.70,443.89 L458.40,444.84 L459.10,445.75 L459.80,446.61 L460.50,447.45 L461.20,448.25 L461.90,449.02 L462.60,449.75 L463.30,450.47 L464.00,451.15 L464.70,451.81 L465.40,452.44 L466.10,453.06 L466.80,453.65 L467.50,454.22 L468.20,454.77 L468.90,455.31 L469.60,455.82 L470.30,456.33 L471.00,456.81 L471.70,457.28 L472.40,457.74 L473.10,458.18 L473.80,458.61 L474.50,459.03 L475.20,459.44 L475.90,459.83 L476.60,460.22 L477.30,460.59 L478.00,460.95 L478.70,461.31 L479.40,461.66 L480.10,461.99 L480.80,462.32 L481.50,462.64 L482.20,462.96 L482.90,463.26 L483.60,463.56 L484.30,463.85 L485.00,464.14 L485.70,464.42 L486.40,464.69 L487.10,464.96 L487.80,465.22 L488.50,465.48 L489.20,465.73 L489.90,465.98 L490.60,466.22 L491.30,466.46 L492.00,466.69 L492.70,466.92 L493.40,467.14 L494.10,467.36 L494.80,467.58 L495.50,467.79 L496.20,468.00 L496.90,468.21 L497.60,468.41 L498.30,468.61 L499.00,468.80 L499.70,469.00 L500.40,469.18 L501.10,469.37 L501.80,469.55 L502.50,469.73 L503.20,469.91 L503.90,470.09 L504.60,470.26 L505.30,470.43 L506.00,470.60 L506.70,470.76 L507.40,470.93 L508.10,471.09 L508.80,471.25 L509.50,471.41 L510.20,471.56 L510.90,471.71 L511.60,471.87 L512.30,472.02 L513.00,472.16 L513.70,472.31 L514.40,472.45 L515.10,472.60 L515.80,472.74 L516.50,472.88 L517.20,473.01 L517.90,473.15 L518.60,473.28 L519.30,473.42 L520.00,473.55 L520.70,473.68 L521.40,473.81 L522.10,473.94 L522.80,474.07 L523.50,474.19 L524.20,474.32 L524.90,474.44 L525.60,474.56 L526.30,474.68 L527.00,474.80 L527.70,474.92 L528.40,475.04 L529.10,475.16 L529.80,475.27 L530.50,475.39 L531.20,475.50 L531.90,475.62 L532.60,475.73 L533.30,475.84 L534.00,475.95 L534.70,476.06 L535.40,476.17 L536.10,476.28 L536.80,476.38 L537.50,476.49 L538.20,476.60 L538.90,476.70 L539.60,476.81 L540.30,476.91 L541.00,477.01 L541.70,477.11 L542.40,477.22 L543.10,477.32 L543.80,477.42 L544.50,477.52 L545.20,477.62 L545.90,477.71 L546.60,477.81 L547.30,477.91 L548.00,478.01 L548.70,478.10 L549.40,478.20 L550.10,478.29 L550.80,478.39 L551.50,478.48 L552.20,478.57 L552.90,478.67 L553.60,478.76 L554.30,478.85 L555.00,478.94 L555.70,479.03 L556.40,479.13 L557.10,479.22 L557.80,479.31 L558.50,479.40 L559.20,479.48 L559.90,479.57 L560.60,479.66 L561.30,479.75 L562.00,479.84 L562.70,479.92 L563.40,480.01 L564.10,480.10 L564.80,480.18 L565.50,480.27 L566.20,480.35 L566.90,480.44 L567.60,480.52 L568.30,480.61 L569.00,480.69 L569.70,480.77 L570.40,480.86 L571.10,480.94 L571.80,481.02 L572.50,481.10 L573.20,481.19 L573.90,481.27 L574.60,481.35 L575.30,481.43 L576.00,481.51 L576.70,481.59 L577.40,481.67 L578.10,481.75 L578.80,481.83 L579.50,481.91 L580.20,481.99 L580.90,482.07 L581.60,482.15 L582.30,482.23 L583.00,482.30 L583.70,482.38 L584.40,482.46 L585.10,482.54 L585.80,482.62 L586.50,482.69 L587.20,482.77 L587.90,482.85 L588.60,482.92 L589.30,483.00 L590.00,483.08 L590.70,483.15 L591.40,483.23 L592.10,483.30 L592.80,483.38 L593.50,483.45 L594.20,483.53 L594.90,483.60 L595.60,483.68 L596.30,483.75 L597.00,483.83 L597.70,483.90 L598.40,483.97 L599.10,484.05 L599.80,484.12 L600.50,484.19 L601.20,484.27 L601.90,484.34 L602.60,484.41 L603.30,484.49 L604.00,484.56 L604.70,484.63 L605.40,484.70 L606.10,484.78 L606.80,484.85 L607.50,484.92 L608.20,484.99 L608.90,485.06 L609.60,485.13 L610.30,485.20 L611.00,485.28 L611.70,485.35 L612.40,485.42 L613.10,485.49 L613.80,485.56 L614.50,485.63 L615.20,485.70 L615.90,485.77 L616.60,485.84 L617.30,485.91 L618.00,485.98 L618.70,486.05 L619.40,486.12 L620.10,486.19 L620.80,486.26 L621.50,486.33 L622.20,486.40 L622.90,486.47 L623.60,486.54 L624.30,486.60 L625.00,486.67 L625.70,486.74 L626.40,486.81 L627.10,486.88 L627.80,486.95 L628.50,487.02 L629.20,487.08 L629.90,487.15 L630.60,487.22 L631.30,487.29 L632.00,487.36 L632.70,487.42 L633.40,487.49 L634.10,487.56 L634.80,487.63 L635.50,487.69 L636.20,487.76 L636.90,487.83 L637.60,487.90 L638.30,487.96 L639.00,488.03 L639.70,488.10 L640.40,488.16 L641.10,488.23 L641.80,488.30 L642.50,488.36 L643.20,488.43 L643.90,488.50 L644.60,488.56 L645.30,488.63 L646.00,488.70 L646.70,488.76 L647.40,488.83 L648.10,488.89 L648.80,488.96 L649.50,489.03 L650.20,489.09 L650.90,489.16 L651.60,489.22 L652.30,489.29 L653.00,489.35 L653.70,489.42 L654.40,489.48 L655.10,489.55 L655.80,489.62 L656.50,489.68 L657.20,489.75 L657.90,489.81 L658.60,489.88 L659.30,489.94 L660.00,490.01 L660.70,490.07 L661.40,490.13 L662.10,490.20 L662.80,490.26 L663.50,490.33 L664.20,490.39 L664.90,490.46 L665.60,490.52 L666.30,490.59 L667.00,490.65 L667.70,490.72 L668.40,490.78 L669.10,490.84 L669.80,490.91 L670.50,490.97 L671.20,491.04 L671.90,491.10 L672.60,491.16 L673.30,491.23 L674.00,491.29 L674.70,491.36 L675.40,491.42 L676.10,491.48 L676.80,491.55 L677.50,491.61 L678.20,491.67 L678.90,491.74" fill="none" stroke="#1a1aff" stroke-width="1.3" stroke-linejoin="round"/>
<path d="M448.60,445.50 L450.30,423.60 L453.00,434.65 L453.70,439.17 L454.40,441.75 L455.10,443.57 L455.80,444.98 L456.50,446.14 L457.20,447.12 L457.90,447.97 L458.60,448.72 L459.30,449.40 L460.00,450.02 L460.70,450.59 L461.40,451.11 L462.10,451.60 L462.80,452.05 L463.50,452.48 L464.20,452.88 L464.90,453.27 L465.60,453.63 L466.30,453.98 L467.00,454.31 L467.70,454.63 L468.40,454.93 L469.10,455.23 L469.80,455.51 L470.50,455.78 L471.20,456.05 L471.90,456.30 L472.60,456.55 L473.30,456.79 L474.00,457.03 L474.70,457.26 L475.40,457.48 L476.10,457.70 L476.80,457.91 L477.50,458.11 L478.20,458.32 L478.90,458.51 L479.60,458.71 L480.30,458.90 L481.00,459.08 L481.70,459.26 L482.40,459.44 L483.10,459.62 L483.80,459.79 L484.50,459.96 L485.20,460.12 L485.90,460.29 L486.60,460.45 L487.30,460.61 L488.00,460.76 L488.70,460.92 L489.40,461.07 L490.10,461.22 L490.80,461.36 L491.50,461.51 L492.20,461.65 L492.90,461.79 L493.60,461.93 L494.30,462.07 L495.00,462.20 L495.70,462.34 L496.40,462.47 L497.10,462.60 L497.80,462.73 L498.50,462.86 L499.20,462.99 L499.90,463.11 L500.60,463.24 L501.30,463.36 L502.00,463.48 L502.70,463.60 L503.40,463.72 L504.10,463.84 L504.80,463.96 L505.50,464.07 L506.20,464.19 L506.90,464.30 L507.60,464.42 L508.30,464.53 L509.00,464.64 L509.70,464.75 L510.40,464.86 L511.10,464.97 L511.80,465.07 L512.50,465.18 L513.20,465.29 L513.90,465.39 L514.60,465.50 L515.30,465.60 L516.00,465.70 L516.70,465.80 L517.40,465.90 L518.10,466.01 L518.80,466.11 L519.50,466.20 L520.20,466.30 L520.90,466.40 L521.60,466.50 L522.30,466.60 L523.00,466.69 L523.70,466.79 L524.40,466.88 L525.10,466.98 L525.80,467.07 L526.50,467.16 L527.20,467.26 L527.90,467.35 L528.60,467.44 L529.30,467.53 L530.00,467.62 L530.70,467.71 L531.40,467.80 L532.10,467.89 L532.80,467.98 L533.50,468.07 L534.20,468.16 L534.90,468.24 L535.60,468.33 L536.30,468.42 L537.00,468.50 L537.70,468.59 L538.40,468.67 L539.10,468.76 L539.80,468.84 L540.50,468.93 L541.20,469.01 L541.90,469.09 L542.60,469.18 L543.30,469.26 L544.00,469.34 L544.70,469.42 L545.40,469.51 L546.10,469.59 L546.80,469.67 L547.50,469.75 L548.20,469.83 L548.90,469.91 L549.60,469.99 L550.30,470.07 L551.00,470.15 L551.70,470.22 L552.40,470.30 L553.10,470.38 L553.80,470.46 L554.50,470.54 L555.20,470.61 L555.90,470.69 L556.60,470.77 L557.30,470.84 L558.00,470.92 L558.70,471.00 L559.40,471.07 L560.10,471.15 L560.80,471.22 L561.50,471.30 L562.20,471.37 L562.90,471.44 L563.60,471.52 L564.30,471.59 L565.00,471.67 L565.70,471.74 L566.40,471.81 L567.10,471.89 L567.80,471.96 L568.50,472.03 L569.20,472.10 L569.90,472.18 L570.60,472.25 L571.30,472.32 L572.00,472.39 L572.70,472.46 L573.40,472.53 L574.10,472.60 L574.80,472.67 L575.50,472.74 L576.20,472.81 L576.90,472.88 L577.60,472.95 L578.30,473.02 L579.00,473.09 L579.70,473.16 L580.40,473.23 L581.10,473.30 L581.80,473.37 L582.50,473.44 L583.20,473.51 L583.90,473.57 L584.60,473.64 L585.30,473.71 L586.00,473.78 L586.70,473.84 L587.40,473.91 L588.10,473.98 L588.80,474.05 L589.50,474.11 L590.20,474.18 L590.90,474.25 L591.60,474.31 L592.30,474.38 L593.00,474.45 L593.70,474.51 L594.40,474.58 L595.10,474.64 L595.80,474.71 L596.50,474.77 L597.20,474.84 L597.90,474.90 L598.60,474.97 L599.30,475.03 L600.00,475.10 L600.70,475.16 L601.40,475.23 L602.10,475.29 L602.80,475.36 L603.50,475.42 L604.20,475.48 L604.90,475.55 L605.60,475.61 L606.30,475.67 L607.00,475.74 L607.70,475.80 L608.40,475.86 L609.10,475.93 L609.80,475.99 L610.50,476.05 L611.20,476.12 L611.90,476.18 L612.60,476.24 L613.30,476.30 L614.00,476.36 L614.70,476.43 L615.40,476.49 L616.10,476.55 L616.80,476.61 L617.50,476.67 L618.20,476.74 L618.90,476.80 L619.60,476.86 L620.30,476.92 L621.00,476.98 L621.70,477.04 L622.40,477.10 L623.10,477.16 L623.80,477.22 L624.50,477.28 L625.20,477.34 L625.90,477.40 L626.60,477.47 L627.30,477.53 L628.00,477.59 L628.70,477.65 L629.40,477.71 L630.10,477.76 L630.80,477.82 L631.50,477.88 L632.20,477.94 L632.90,478.00 L633.60,478.06 L634.30,478.12 L635.00,478.18 L635.70,478.24 L636.40,478.30 L637.10,478.36 L637.80,478.42 L638.50,478.48 L639.20,478.53 L639.90,478.59 L640.60,478.65 L641.30,478.71 L642.00,478.77 L642.70,478.83 L643.40,478.88 L644.10,478.94 L644.80,479.00 L645.50,479.06 L646.20,479.12 L646.90,479.17 L647.60,479.23 L648.30,479.29 L649.00,479.35 L649.70,479.40 L650.40,479.46 L651.10,479.52 L651.80,479.58 L652.50,479.63 L653.20,479.69 L653.90,479.75 L654.60,479.80 L655.30,479.86 L656.00,479.92 L656.70,479.97 L657.40,480.03 L658.10,480.09 L658.80,480.14 L659.50,480.20 L660.20,480.26 L660.90,480.31 L661.60,480.37 L662.30,480.42 L663.00,480.48 L663.70,480.54 L664.40,480.59 L665.10,480.65 L665.80,480.70 L666.50,480.76 L667.20,480.82 L667.90,480.87 L668.60,480.93 L669.30,480.98 L670.00,481.04 L670.70,481.09 L671.40,481.15 L672.10,481.20 L672.80,481.26 L673.50,481.31 L674.20,481.37 L674.90,481.42 L675.60,481.48 L676.30,481.53 L677.00,481.59 L677.70,481.64 L678.40,481.70 L679.10,481.75" fill="none" stroke="#ff1a1a" stroke-width="1.1" stroke-linejoin="round"/>
<rect x="448.6" y="414.2" width="230.79999999999995" height="129.59999999999997" fill="none" stroke="#5a5a5a" stroke-width="1.1"/>
<line x1="588.20" y1="508.10" x2="595.20" y2="508.10" stroke="#1a1aff" stroke-width="1.2" />
<text x="601.80" y="512.10" font-size="12.1" text-anchor="start" fill="#1a1aff" font-weight="normal" ><tspan font-family="Liberation Serif, serif">Δ</tspan><tspan font-family="Liberation Serif, serif" font-style="italic">ν</tspan> = 0 GHz</text>
<line x1="588.20" y1="520.40" x2="595.20" y2="520.40" stroke="#1a8a1a" stroke-width="1.2" />
<text x="601.80" y="524.40" font-size="12.1" text-anchor="start" fill="#1a8a1a" font-weight="normal" ><tspan font-family="Liberation Serif, serif">Δ</tspan><tspan font-family="Liberation Serif, serif" font-style="italic">ν</tspan> = 1.7 GHz</text>
<line x1="588.20" y1="533.00" x2="595.20" y2="533.00" stroke="#ff1a1a" stroke-width="1.2" />
<text x="601.80" y="537.00" font-size="12.1" text-anchor="start" fill="#ff1a1a" font-weight="normal" ><tspan font-family="Liberation Serif, serif">Δ</tspan><tspan font-family="Liberation Serif, serif" font-style="italic">ν</tspan> = 180 GHz</text>
</svg>
</body></html>
